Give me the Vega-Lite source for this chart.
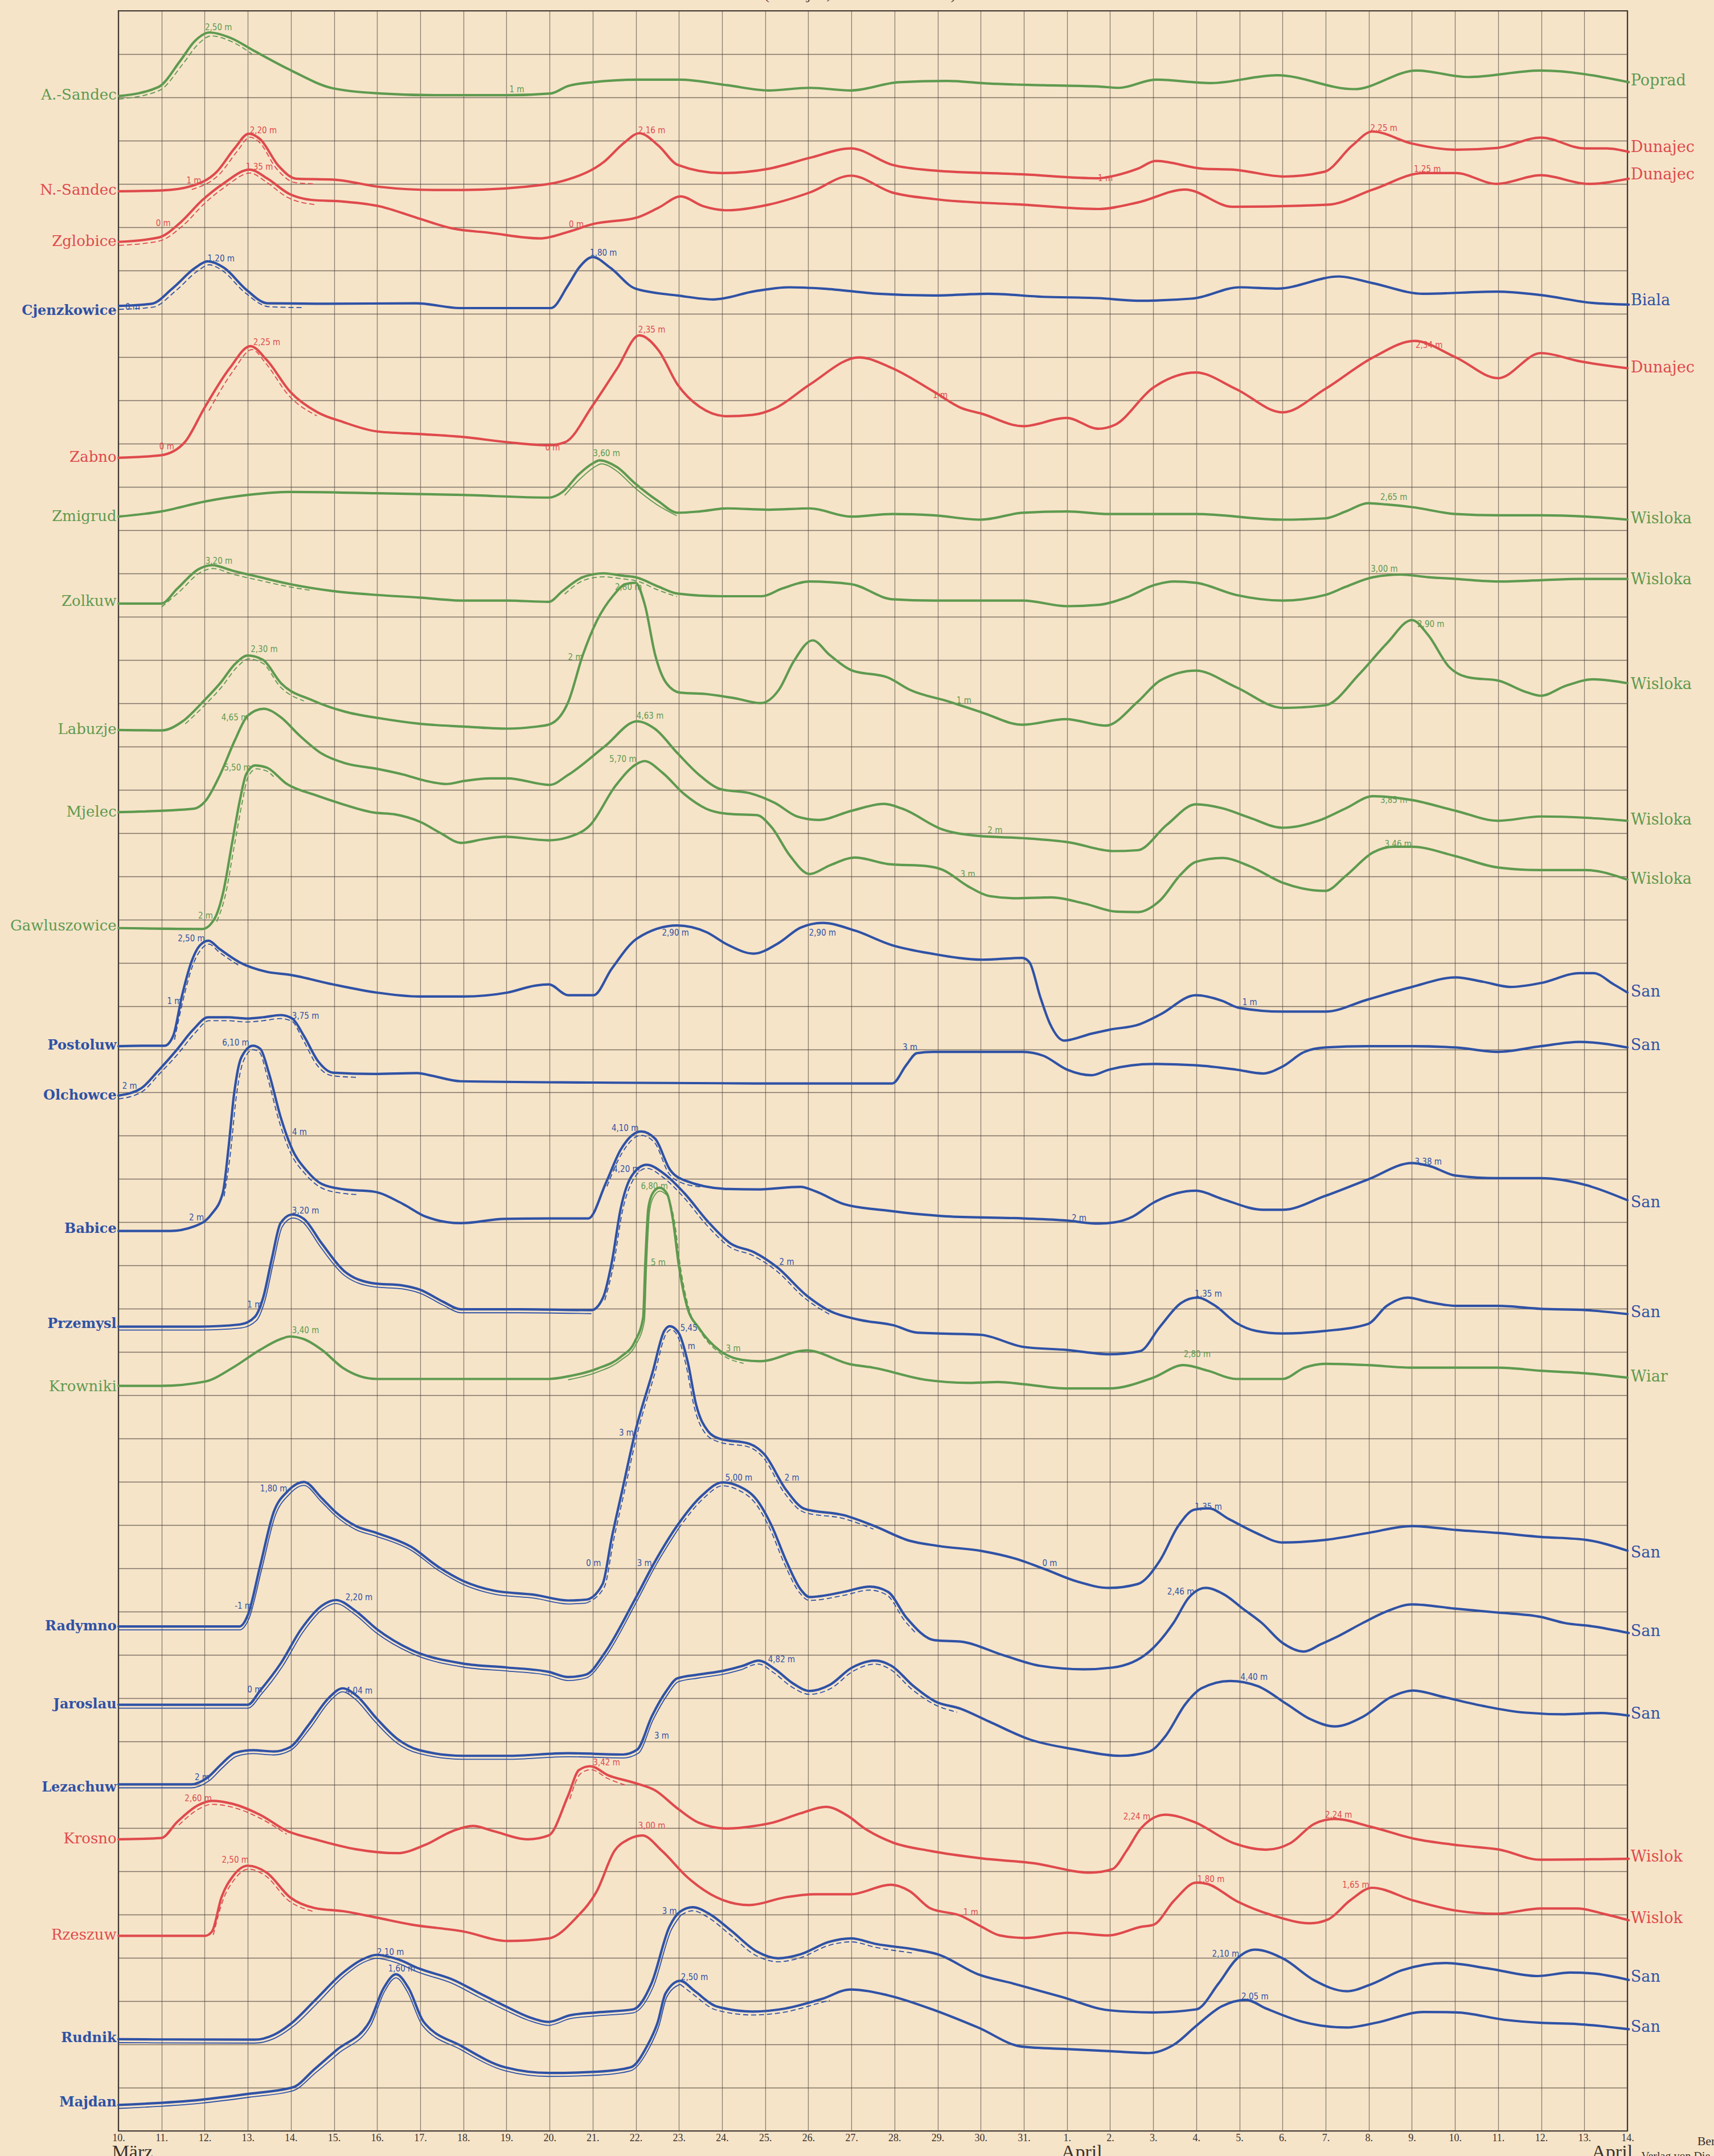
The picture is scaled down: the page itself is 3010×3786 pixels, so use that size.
{
"$schema": "https://vega.github.io/schema/vega-lite/v6.json",
"width": 2650, "height": 3723,
"autosize": {"type": "none"},
"padding": {"left": 208, "top": 19, "right": 152, "bottom": 44},
"background": "#f6e4c9",
"config": {"view": {"stroke": "#3b332c", "strokeWidth": 2.2}, "axis": {"domain": false, "ticks": false, "title": null}},
"datasets": {
"curves": [
{"s":"A-Sandec","c":"g","d":10.01,"u":47.03},{"s":"A-Sandec","c":"g","d":10.93,"u":47.24},{"s":"A-Sandec","c":"g","d":11.43,"u":47.84},{"s":"A-Sandec","c":"g","d":11.77,"u":48.30},{"s":"A-Sandec","c":"g","d":12.11,"u":48.50},{"s":"A-Sandec","c":"g","d":12.61,"u":48.37},{"s":"A-Sandec","c":"g","d":13.12,"u":48.09},{"s":"A-Sandec","c":"g","d":13.97,"u":47.64},{"s":"A-Sandec","c":"g","d":14.97,"u":47.21},{"s":"A-Sandec","c":"g","d":16.07,"u":47.09},{"s":"A-Sandec","c":"g","d":17.33,"u":47.05},{"s":"A-Sandec","c":"g","d":19.02,"u":47.05},{"s":"A-Sandec","c":"g","d":20.03,"u":47.09},{"s":"A-Sandec","c":"g","d":20.42,"u":47.26},{"s":"A-Sandec","c":"g","d":21.0,"u":47.35},{"s":"A-Sandec","c":"g","d":22.05,"u":47.41},{"s":"A-Sandec","c":"g","d":23.01,"u":47.41},{"s":"A-Sandec","c":"g","d":24.12,"u":47.28},{"s":"A-Sandec","c":"g","d":25.08,"u":47.16},{"s":"A-Sandec","c":"g","d":26.03,"u":47.22},{"s":"A-Sandec","c":"g","d":26.99,"u":47.16},{"s":"A-Sandec","c":"g","d":28.1,"u":47.35},{"s":"A-Sandec","c":"g","d":29.22,"u":47.38},{"s":"A-Sandec","c":"g","d":30.18,"u":47.32},{"s":"A-Sandec","c":"g","d":31.45,"u":47.28},{"s":"A-Sandec","c":"g","d":32.73,"u":47.25},{"s":"A-Sandec","c":"g","d":33.21,"u":47.22},{"s":"A-Sandec","c":"g","d":34.06,"u":47.41},{"s":"A-Sandec","c":"g","d":35.34,"u":47.33},{"s":"A-Sandec","c":"g","d":36.87,"u":47.51},{"s":"A-Sandec","c":"g","d":38.66,"u":47.19},{"s":"A-Sandec","c":"g","d":40.11,"u":47.62},{"s":"A-Sandec","c":"g","d":41.30,"u":47.47},{"s":"A-Sandec","c":"g","d":42.99,"u":47.62},{"s":"A-Sandec","c":"g","d":45.03,"u":47.35},
{"s":"N-Sandec","c":"r","d":10.01,"u":44.83},{"s":"N-Sandec","c":"r","d":11.02,"u":44.85},{"s":"N-Sandec","c":"r","d":11.69,"u":44.95},{"s":"N-Sandec","c":"r","d":12.28,"u":45.28},{"s":"N-Sandec","c":"r","d":12.70,"u":45.83},{"s":"N-Sandec","c":"r","d":13.02,"u":46.16},{"s":"N-Sandec","c":"r","d":13.29,"u":46.03},{"s":"N-Sandec","c":"r","d":13.71,"u":45.42},{"s":"N-Sandec","c":"r","d":14.13,"u":45.12},{"s":"N-Sandec","c":"r","d":14.97,"u":45.10},{"s":"N-Sandec","c":"r","d":16.07,"u":44.93},{"s":"N-Sandec","c":"r","d":17.33,"u":44.86},{"s":"N-Sandec","c":"r","d":18.0,"u":44.86},{"s":"N-Sandec","c":"r","d":19.86,"u":44.98},{"s":"N-Sandec","c":"r","d":20.42,"u":45.10},{"s":"N-Sandec","c":"r","d":21.25,"u":45.50},{"s":"N-Sandec","c":"r","d":21.73,"u":45.95},{"s":"N-Sandec","c":"r","d":22.08,"u":46.17},{"s":"N-Sandec","c":"r","d":22.53,"u":45.88},{"s":"N-Sandec","c":"r","d":22.97,"u":45.44},{"s":"N-Sandec","c":"r","d":23.99,"u":45.25},{"s":"N-Sandec","c":"r","d":25.08,"u":45.35},{"s":"N-Sandec","c":"r","d":26.03,"u":45.60},{"s":"N-Sandec","c":"r","d":26.99,"u":45.82},{"s":"N-Sandec","c":"r","d":27.95,"u":45.44},{"s":"N-Sandec","c":"r","d":28.91,"u":45.31},{"s":"N-Sandec","c":"r","d":30.98,"u":45.22},{"s":"N-Sandec","c":"r","d":32.73,"u":45.13},{"s":"N-Sandec","c":"r","d":33.11,"u":45.19},{"s":"N-Sandec","c":"r","d":33.64,"u":45.35},{"s":"N-Sandec","c":"r","d":34.06,"u":45.53},{"s":"N-Sandec","c":"r","d":35.17,"u":45.35},{"s":"N-Sandec","c":"r","d":35.85,"u":45.33},{"s":"N-Sandec","c":"r","d":37.04,"u":45.17},{"s":"N-Sandec","c":"r","d":37.97,"u":45.28},{"s":"N-Sandec","c":"r","d":38.62,"u":45.89},{"s":"N-Sandec","c":"r","d":39.08,"u":46.21},{"s":"N-Sandec","c":"r","d":40.01,"u":45.93},{"s":"N-Sandec","c":"r","d":41.03,"u":45.79},{"s":"N-Sandec","c":"r","d":41.97,"u":45.83},{"s":"N-Sandec","c":"r","d":42.99,"u":46.07},{"s":"N-Sandec","c":"r","d":44.01,"u":45.82},{"s":"N-Sandec","c":"r","d":44.52,"u":45.82},{"s":"N-Sandec","c":"r","d":45.03,"u":45.74},
{"s":"Zglobice","c":"r","d":10.01,"u":43.66},{"s":"Zglobice","c":"r","d":10.93,"u":43.76},{"s":"Zglobice","c":"r","d":11.44,"u":44.11},{"s":"Zglobice","c":"r","d":11.94,"u":44.62},{"s":"Zglobice","c":"r","d":12.45,"u":45.02},{"s":"Zglobice","c":"r","d":13.04,"u":45.33},{"s":"Zglobice","c":"r","d":13.46,"u":45.12},{"s":"Zglobice","c":"r","d":13.96,"u":44.77},{"s":"Zglobice","c":"r","d":14.47,"u":44.63},{"s":"Zglobice","c":"r","d":15.23,"u":44.59},{"s":"Zglobice","c":"r","d":16.07,"u":44.48},{"s":"Zglobice","c":"r","d":16.91,"u":44.22},{"s":"Zglobice","c":"r","d":17.75,"u":43.97},{"s":"Zglobice","c":"r","d":18.60,"u":43.87},{"s":"Zglobice","c":"r","d":19.78,"u":43.74},{"s":"Zglobice","c":"r","d":20.43,"u":43.89},{"s":"Zglobice","c":"r","d":21.0,"u":44.07},{"s":"Zglobice","c":"r","d":22.05,"u":44.23},{"s":"Zglobice","c":"r","d":22.53,"u":44.45},{"s":"Zglobice","c":"r","d":23.04,"u":44.71},{"s":"Zglobice","c":"r","d":23.55,"u":44.49},{"s":"Zglobice","c":"r","d":24.12,"u":44.39},{"s":"Zglobice","c":"r","d":25.08,"u":44.52},{"s":"Zglobice","c":"r","d":26.03,"u":44.80},{"s":"Zglobice","c":"r","d":26.99,"u":45.19},{"s":"Zglobice","c":"r","d":27.95,"u":44.80},{"s":"Zglobice","c":"r","d":28.91,"u":44.65},{"s":"Zglobice","c":"r","d":30.98,"u":44.52},{"s":"Zglobice","c":"r","d":32.73,"u":44.42},{"s":"Zglobice","c":"r","d":33.64,"u":44.57},{"s":"Zglobice","c":"r","d":34.74,"u":44.87},{"s":"Zglobice","c":"r","d":35.85,"u":44.47},{"s":"Zglobice","c":"r","d":38.06,"u":44.52},{"s":"Zglobice","c":"r","d":39.1,"u":44.87},{"s":"Zglobice","c":"r","d":40.27,"u":45.25},{"s":"Zglobice","c":"r","d":41.02,"u":45.25},{"s":"Zglobice","c":"r","d":41.97,"u":45.0},{"s":"Zglobice","c":"r","d":42.99,"u":45.20},{"s":"Zglobice","c":"r","d":44.09,"u":45.0},{"s":"Zglobice","c":"r","d":45.03,"u":45.12},
{"s":"Cjenzkowice","c":"b","d":10.01,"u":42.18},{"s":"Cjenzkowice","c":"b","d":10.77,"u":42.23},{"s":"Cjenzkowice","c":"b","d":11.27,"u":42.60},{"s":"Cjenzkowice","c":"b","d":11.78,"u":43.06},{"s":"Cjenzkowice","c":"b","d":12.07,"u":43.21},{"s":"Cjenzkowice","c":"b","d":12.45,"u":43.06},{"s":"Cjenzkowice","c":"b","d":12.96,"u":42.56},{"s":"Cjenzkowice","c":"b","d":13.46,"u":42.24},{"s":"Cjenzkowice","c":"b","d":14.81,"u":42.23},{"s":"Cjenzkowice","c":"b","d":16.91,"u":42.24},{"s":"Cjenzkowice","c":"b","d":17.92,"u":42.13},{"s":"Cjenzkowice","c":"b","d":20.03,"u":42.13},{"s":"Cjenzkowice","c":"b","d":20.43,"u":42.66},{"s":"Cjenzkowice","c":"b","d":20.68,"u":43.06},{"s":"Cjenzkowice","c":"b","d":21.0,"u":43.31},{"s":"Cjenzkowice","c":"b","d":21.41,"u":43.06},{"s":"Cjenzkowice","c":"b","d":21.99,"u":42.58},{"s":"Cjenzkowice","c":"b","d":22.97,"u":42.42},{"s":"Cjenzkowice","c":"b","d":23.80,"u":42.33},{"s":"Cjenzkowice","c":"b","d":24.76,"u":42.52},{"s":"Cjenzkowice","c":"b","d":25.56,"u":42.61},{"s":"Cjenzkowice","c":"b","d":26.35,"u":42.58},{"s":"Cjenzkowice","c":"b","d":27.63,"u":42.46},{"s":"Cjenzkowice","c":"b","d":28.90,"u":42.42},{"s":"Cjenzkowice","c":"b","d":30.18,"u":42.46},{"s":"Cjenzkowice","c":"b","d":31.45,"u":42.39},{"s":"Cjenzkowice","c":"b","d":32.73,"u":42.36},{"s":"Cjenzkowice","c":"b","d":33.64,"u":42.30},{"s":"Cjenzkowice","c":"b","d":34.91,"u":42.35},{"s":"Cjenzkowice","c":"b","d":36.01,"u":42.61},{"s":"Cjenzkowice","c":"b","d":36.87,"u":42.58},{"s":"Cjenzkowice","c":"b","d":38.31,"u":42.86},{"s":"Cjenzkowice","c":"b","d":39.07,"u":42.71},{"s":"Cjenzkowice","c":"b","d":40.27,"u":42.46},{"s":"Cjenzkowice","c":"b","d":41.97,"u":42.51},{"s":"Cjenzkowice","c":"b","d":42.99,"u":42.43},{"s":"Cjenzkowice","c":"b","d":44.18,"u":42.25},{"s":"Cjenzkowice","c":"b","d":45.03,"u":42.21},
{"s":"Zabno","c":"r","d":10.0,"u":38.67},{"s":"Zabno","c":"r","d":10.99,"u":38.73},{"s":"Zabno","c":"r","d":11.53,"u":39.02},{"s":"Zabno","c":"r","d":12.01,"u":39.85},{"s":"Zabno","c":"r","d":12.58,"u":40.74},{"s":"Zabno","c":"r","d":13.06,"u":41.25},{"s":"Zabno","c":"r","d":13.44,"u":40.93},{"s":"Zabno","c":"r","d":13.98,"u":40.20},{"s":"Zabno","c":"r","d":14.62,"u":39.72},{"s":"Zabno","c":"r","d":15.20,"u":39.50},{"s":"Zabno","c":"r","d":15.99,"u":39.28},{"s":"Zabno","c":"r","d":16.98,"u":39.22},{"s":"Zabno","c":"r","d":18.0,"u":39.15},{"s":"Zabno","c":"r","d":19.02,"u":39.03},{"s":"Zabno","c":"r","d":19.98,"u":38.96},{"s":"Zabno","c":"r","d":20.36,"u":39.03},{"s":"Zabno","c":"r","d":21.0,"u":39.88},{"s":"Zabno","c":"r","d":21.57,"u":40.74},{"s":"Zabno","c":"r","d":22.08,"u":41.50},{"s":"Zabno","c":"r","d":22.53,"u":41.15},{"s":"Zabno","c":"r","d":22.97,"u":40.36},{"s":"Zabno","c":"r","d":23.48,"u":39.85},{"s":"Zabno","c":"r","d":24.12,"u":39.63},{"s":"Zabno","c":"r","d":24.70,"u":39.66},{"s":"Zabno","c":"r","d":25.24,"u":39.82},{"s":"Zabno","c":"r","d":26.03,"u":40.36},{"s":"Zabno","c":"r","d":27.18,"u":40.99},{"s":"Zabno","c":"r","d":27.95,"u":40.74},{"s":"Zabno","c":"r","d":28.91,"u":40.20},{"s":"Zabno","c":"r","d":29.55,"u":39.82},{"s":"Zabno","c":"r","d":30.02,"u":39.69},{"s":"Zabno","c":"r","d":30.98,"u":39.40},{"s":"Zabno","c":"r","d":31.99,"u":39.59},{"s":"Zabno","c":"r","d":32.73,"u":39.34},{"s":"Zabno","c":"r","d":33.11,"u":39.43},{"s":"Zabno","c":"r","d":34.0,"u":40.29},{"s":"Zabno","c":"r","d":34.99,"u":40.64},{"s":"Zabno","c":"r","d":35.92,"u":40.26},{"s":"Zabno","c":"r","d":37.0,"u":39.72},{"s":"Zabno","c":"r","d":37.99,"u":40.26},{"s":"Zabno","c":"r","d":39.10,"u":40.99},{"s":"Zabno","c":"r","d":40.06,"u":41.37},{"s":"Zabno","c":"r","d":41.02,"u":40.99},{"s":"Zabno","c":"r","d":42.0,"u":40.51},{"s":"Zabno","c":"r","d":42.99,"u":41.09},{"s":"Zabno","c":"r","d":43.89,"u":40.90},{"s":"Zabno","c":"r","d":45.0,"u":40.74},
{"s":"Zmigrud","c":"g","d":10.0,"u":37.31},{"s":"Zmigrud","c":"g","d":10.99,"u":37.43},{"s":"Zmigrud","c":"g","d":12.01,"u":37.66},{"s":"Zmigrud","c":"g","d":13.0,"u":37.81},{"s":"Zmigrud","c":"g","d":13.98,"u":37.88},{"s":"Zmigrud","c":"g","d":15.99,"u":37.85},{"s":"Zmigrud","c":"g","d":18.0,"u":37.81},{"s":"Zmigrud","c":"g","d":19.98,"u":37.75},{"s":"Zmigrud","c":"g","d":20.30,"u":37.88},{"s":"Zmigrud","c":"g","d":20.68,"u":38.29},{"s":"Zmigrud","c":"g","d":21.0,"u":38.54},{"s":"Zmigrud","c":"g","d":21.16,"u":38.61},{"s":"Zmigrud","c":"g","d":21.57,"u":38.45},{"s":"Zmigrud","c":"g","d":21.99,"u":38.07},{"s":"Zmigrud","c":"g","d":22.53,"u":37.66},{"s":"Zmigrud","c":"g","d":22.97,"u":37.40},{"s":"Zmigrud","c":"g","d":23.48,"u":37.43},{"s":"Zmigrud","c":"g","d":24.12,"u":37.50},{"s":"Zmigrud","c":"g","d":25.08,"u":37.47},{"s":"Zmigrud","c":"g","d":26.03,"u":37.50},{"s":"Zmigrud","c":"g","d":26.99,"u":37.31},{"s":"Zmigrud","c":"g","d":27.95,"u":37.37},{"s":"Zmigrud","c":"g","d":28.91,"u":37.34},{"s":"Zmigrud","c":"g","d":29.99,"u":37.24},{"s":"Zmigrud","c":"g","d":30.98,"u":37.40},{"s":"Zmigrud","c":"g","d":32.0,"u":37.43},{"s":"Zmigrud","c":"g","d":32.98,"u":37.37},{"s":"Zmigrud","c":"g","d":34.99,"u":37.37},{"s":"Zmigrud","c":"g","d":37.0,"u":37.24},{"s":"Zmigrud","c":"g","d":37.99,"u":37.27},{"s":"Zmigrud","c":"g","d":38.47,"u":37.43},{"s":"Zmigrud","c":"g","d":38.98,"u":37.62},{"s":"Zmigrud","c":"g","d":39.42,"u":37.59},{"s":"Zmigrud","c":"g","d":40.0,"u":37.53},{"s":"Zmigrud","c":"g","d":41.02,"u":37.37},{"s":"Zmigrud","c":"g","d":42.0,"u":37.34},{"s":"Zmigrud","c":"g","d":42.99,"u":37.34},{"s":"Zmigrud","c":"g","d":44.04,"u":37.31},{"s":"Zmigrud","c":"g","d":45.0,"u":37.24},
{"s":"Zolkuw","c":"g","d":10.0,"u":35.30},{"s":"Zolkuw","c":"g","d":10.99,"u":35.30},{"s":"Zolkuw","c":"g","d":11.37,"u":35.65},{"s":"Zolkuw","c":"g","d":11.85,"u":36.09},{"s":"Zolkuw","c":"g","d":12.17,"u":36.19},{"s":"Zolkuw","c":"g","d":12.65,"u":36.06},{"s":"Zolkuw","c":"g","d":13.28,"u":35.91},{"s":"Zolkuw","c":"g","d":13.98,"u":35.75},{"s":"Zolkuw","c":"g","d":14.97,"u":35.59},{"s":"Zolkuw","c":"g","d":15.99,"u":35.50},{"s":"Zolkuw","c":"g","d":16.98,"u":35.44},{"s":"Zolkuw","c":"g","d":18.0,"u":35.37},{"s":"Zolkuw","c":"g","d":19.02,"u":35.37},{"s":"Zolkuw","c":"g","d":19.98,"u":35.34},{"s":"Zolkuw","c":"g","d":20.30,"u":35.59},{"s":"Zolkuw","c":"g","d":20.77,"u":35.91},{"s":"Zolkuw","c":"g","d":21.25,"u":36.0},{"s":"Zolkuw","c":"g","d":21.73,"u":35.94},{"s":"Zolkuw","c":"g","d":21.99,"u":35.91},{"s":"Zolkuw","c":"g","d":22.53,"u":35.69},{"s":"Zolkuw","c":"g","d":22.97,"u":35.53},{"s":"Zolkuw","c":"g","d":23.99,"u":35.47},{"s":"Zolkuw","c":"g","d":24.92,"u":35.47},{"s":"Zolkuw","c":"g","d":25.40,"u":35.65},{"s":"Zolkuw","c":"g","d":26.03,"u":35.81},{"s":"Zolkuw","c":"g","d":26.99,"u":35.75},{"s":"Zolkuw","c":"g","d":27.95,"u":35.40},{"s":"Zolkuw","c":"g","d":28.91,"u":35.37},{"s":"Zolkuw","c":"g","d":29.99,"u":35.37},{"s":"Zolkuw","c":"g","d":30.98,"u":35.37},{"s":"Zolkuw","c":"g","d":32.0,"u":35.24},{"s":"Zolkuw","c":"g","d":32.73,"u":35.27},{"s":"Zolkuw","c":"g","d":33.37,"u":35.44},{"s":"Zolkuw","c":"g","d":34.0,"u":35.72},{"s":"Zolkuw","c":"g","d":34.48,"u":35.81},{"s":"Zolkuw","c":"g","d":34.99,"u":35.78},{"s":"Zolkuw","c":"g","d":35.92,"u":35.50},{"s":"Zolkuw","c":"g","d":37.0,"u":35.37},{"s":"Zolkuw","c":"g","d":37.99,"u":35.50},{"s":"Zolkuw","c":"g","d":38.47,"u":35.69},{"s":"Zolkuw","c":"g","d":39.10,"u":35.91},{"s":"Zolkuw","c":"g","d":39.74,"u":35.97},{"s":"Zolkuw","c":"g","d":40.38,"u":35.91},{"s":"Zolkuw","c":"g","d":41.02,"u":35.87},{"s":"Zolkuw","c":"g","d":42.0,"u":35.81},{"s":"Zolkuw","c":"g","d":42.99,"u":35.84},{"s":"Zolkuw","c":"g","d":43.89,"u":35.87},{"s":"Zolkuw","c":"g","d":45.0,"u":35.87},
{"s":"Labuzje","c":"g","d":10.0,"u":32.38},{"s":"Labuzje","c":"g","d":11.01,"u":32.37},{"s":"Labuzje","c":"g","d":11.49,"u":32.58},{"s":"Labuzje","c":"g","d":11.95,"u":33.02},{"s":"Labuzje","c":"g","d":12.36,"u":33.46},{"s":"Labuzje","c":"g","d":12.71,"u":33.91},{"s":"Labuzje","c":"g","d":13.0,"u":34.10},{"s":"Labuzje","c":"g","d":13.35,"u":34.0},{"s":"Labuzje","c":"g","d":13.77,"u":33.46},{"s":"Labuzje","c":"g","d":14.51,"u":33.06},{"s":"Labuzje","c":"g","d":15.26,"u":32.80},{"s":"Labuzje","c":"g","d":16.06,"u":32.65},{"s":"Labuzje","c":"g","d":17.01,"u":32.52},{"s":"Labuzje","c":"g","d":17.95,"u":32.46},{"s":"Labuzje","c":"g","d":19.03,"u":32.41},{"s":"Labuzje","c":"g","d":19.63,"u":32.45},{"s":"Labuzje","c":"g","d":20.0,"u":32.51},{"s":"Labuzje","c":"g","d":20.43,"u":33.02},{"s":"Labuzje","c":"g","d":20.77,"u":34.11},{"s":"Labuzje","c":"g","d":21.09,"u":34.89},{"s":"Labuzje","c":"g","d":21.48,"u":35.49},{"s":"Labuzje","c":"g","d":21.76,"u":35.75},{"s":"Labuzje","c":"g","d":21.99,"u":35.78},{"s":"Labuzje","c":"g","d":22.21,"u":35.27},{"s":"Labuzje","c":"g","d":22.45,"u":34.11},{"s":"Labuzje","c":"g","d":22.71,"u":33.46},{"s":"Labuzje","c":"g","d":23.04,"u":33.24},{"s":"Labuzje","c":"g","d":23.63,"u":33.21},{"s":"Labuzje","c":"g","d":24.31,"u":33.11},{"s":"Labuzje","c":"g","d":24.90,"u":33.0},{"s":"Labuzje","c":"g","d":25.32,"u":33.31},{"s":"Labuzje","c":"g","d":25.66,"u":33.96},{"s":"Labuzje","c":"g","d":26.10,"u":34.45},{"s":"Labuzje","c":"g","d":26.50,"u":34.11},{"s":"Labuzje","c":"g","d":27.0,"u":33.76},{"s":"Labuzje","c":"g","d":27.85,"u":33.59},{"s":"Labuzje","c":"g","d":28.35,"u":33.31},{"s":"Labuzje","c":"g","d":29.28,"u":33.03},{"s":"Labuzje","c":"g","d":30.04,"u":32.78},{"s":"Labuzje","c":"g","d":30.96,"u":32.50},{"s":"Labuzje","c":"g","d":31.97,"u":32.63},{"s":"Labuzje","c":"g","d":32.90,"u":32.48},{"s":"Labuzje","c":"g","d":33.64,"u":33.03},{"s":"Labuzje","c":"g","d":34.16,"u":33.52},{"s":"Labuzje","c":"g","d":34.99,"u":33.75},{"s":"Labuzje","c":"g","d":35.92,"u":33.37},{"s":"Labuzje","c":"g","d":37.0,"u":32.89},{"s":"Labuzje","c":"g","d":37.99,"u":32.95},{"s":"Labuzje","c":"g","d":38.79,"u":33.68},{"s":"Labuzje","c":"g","d":39.42,"u":34.38},{"s":"Labuzje","c":"g","d":40.0,"u":34.92},{"s":"Labuzje","c":"g","d":40.38,"u":34.57},{"s":"Labuzje","c":"g","d":40.86,"u":33.84},{"s":"Labuzje","c":"g","d":41.34,"u":33.59},{"s":"Labuzje","c":"g","d":42.0,"u":33.52},{"s":"Labuzje","c":"g","d":42.61,"u":33.27},{"s":"Labuzje","c":"g","d":42.99,"u":33.17},{"s":"Labuzje","c":"g","d":43.57,"u":33.40},{"s":"Labuzje","c":"g","d":44.21,"u":33.55},{"s":"Labuzje","c":"g","d":45.0,"u":33.46},
{"s":"Mjelec","c":"g","d":10.0,"u":30.48},{"s":"Mjelec","c":"g","d":11.75,"u":30.56},{"s":"Mjelec","c":"g","d":12.02,"u":30.74},{"s":"Mjelec","c":"g","d":12.36,"u":31.35},{"s":"Mjelec","c":"g","d":12.70,"u":32.14},{"s":"Mjelec","c":"g","d":13.0,"u":32.71},{"s":"Mjelec","c":"g","d":13.37,"u":32.87},{"s":"Mjelec","c":"g","d":13.77,"u":32.67},{"s":"Mjelec","c":"g","d":14.18,"u":32.27},{"s":"Mjelec","c":"g","d":14.72,"u":31.83},{"s":"Mjelec","c":"g","d":15.26,"u":31.61},{"s":"Mjelec","c":"g","d":16.0,"u":31.48},{"s":"Mjelec","c":"g","d":16.60,"u":31.35},{"s":"Mjelec","c":"g","d":17.14,"u":31.20},{"s":"Mjelec","c":"g","d":17.61,"u":31.13},{"s":"Mjelec","c":"g","d":18.02,"u":31.20},{"s":"Mjelec","c":"g","d":18.62,"u":31.26},{"s":"Mjelec","c":"g","d":19.03,"u":31.26},{"s":"Mjelec","c":"g","d":20.0,"u":31.11},{"s":"Mjelec","c":"g","d":20.43,"u":31.34},{"s":"Mjelec","c":"g","d":21.28,"u":32.0},{"s":"Mjelec","c":"g","d":22.03,"u":32.58},{"s":"Mjelec","c":"g","d":22.45,"u":32.40},{"s":"Mjelec","c":"g","d":22.96,"u":31.85},{"s":"Mjelec","c":"g","d":23.47,"u":31.34},{"s":"Mjelec","c":"g","d":23.97,"u":31.01},{"s":"Mjelec","c":"g","d":24.64,"u":30.92},{"s":"Mjelec","c":"g","d":25.23,"u":30.69},{"s":"Mjelec","c":"g","d":25.74,"u":30.38},{"s":"Mjelec","c":"g","d":26.24,"u":30.30},{"s":"Mjelec","c":"g","d":27.0,"u":30.51},{"s":"Mjelec","c":"g","d":27.76,"u":30.67},{"s":"Mjelec","c":"g","d":28.18,"u":30.56},{"s":"Mjelec","c":"g","d":29.11,"u":30.08},{"s":"Mjelec","c":"g","d":29.95,"u":29.93},{"s":"Mjelec","c":"g","d":30.96,"u":29.88},{"s":"Mjelec","c":"g","d":32.06,"u":29.78},{"s":"Mjelec","c":"g","d":33.07,"u":29.58},{"s":"Mjelec","c":"g","d":33.64,"u":29.60},{"s":"Mjelec","c":"g","d":34.32,"u":30.19},{"s":"Mjelec","c":"g","d":34.99,"u":30.66},{"s":"Mjelec","c":"g","d":35.60,"u":30.57},{"s":"Mjelec","c":"g","d":36.24,"u":30.35},{"s":"Mjelec","c":"g","d":37.0,"u":30.12},{"s":"Mjelec","c":"g","d":37.83,"u":30.28},{"s":"Mjelec","c":"g","d":38.47,"u":30.57},{"s":"Mjelec","c":"g","d":39.10,"u":30.85},{"s":"Mjelec","c":"g","d":40.0,"u":30.76},{"s":"Mjelec","c":"g","d":41.02,"u":30.51},{"s":"Mjelec","c":"g","d":42.0,"u":30.28},{"s":"Mjelec","c":"g","d":42.99,"u":30.38},{"s":"Mjelec","c":"g","d":44.04,"u":30.35},{"s":"Mjelec","c":"g","d":45.0,"u":30.28},
{"s":"Gawluszowice","c":"g","d":10.0,"u":27.80},{"s":"Gawluszowice","c":"g","d":11.95,"u":27.78},{"s":"Gawluszowice","c":"g","d":12.23,"u":28.02},{"s":"Gawluszowice","c":"g","d":12.43,"u":28.63},{"s":"Gawluszowice","c":"g","d":12.63,"u":29.73},{"s":"Gawluszowice","c":"g","d":12.83,"u":30.82},{"s":"Gawluszowice","c":"g","d":12.96,"u":31.35},{"s":"Gawluszowice","c":"g","d":13.17,"u":31.56},{"s":"Gawluszowice","c":"g","d":13.44,"u":31.51},{"s":"Gawluszowice","c":"g","d":13.91,"u":31.13},{"s":"Gawluszowice","c":"g","d":14.58,"u":30.87},{"s":"Gawluszowice","c":"g","d":15.12,"u":30.69},{"s":"Gawluszowice","c":"g","d":15.93,"u":30.47},{"s":"Gawluszowice","c":"g","d":16.40,"u":30.43},{"s":"Gawluszowice","c":"g","d":17.01,"u":30.25},{"s":"Gawluszowice","c":"g","d":17.48,"u":29.99},{"s":"Gawluszowice","c":"g","d":17.95,"u":29.77},{"s":"Gawluszowice","c":"g","d":18.49,"u":29.86},{"s":"Gawluszowice","c":"g","d":18.96,"u":29.91},{"s":"Gawluszowice","c":"g","d":19.97,"u":29.83},{"s":"Gawluszowice","c":"g","d":20.43,"u":29.90},{"s":"Gawluszowice","c":"g","d":20.94,"u":30.18},{"s":"Gawluszowice","c":"g","d":21.53,"u":31.09},{"s":"Gawluszowice","c":"g","d":22.03,"u":31.60},{"s":"Gawluszowice","c":"g","d":22.20,"u":31.66},{"s":"Gawluszowice","c":"g","d":22.62,"u":31.39},{"s":"Gawluszowice","c":"g","d":23.13,"u":30.89},{"s":"Gawluszowice","c":"g","d":23.63,"u":30.56},{"s":"Gawluszowice","c":"g","d":24.14,"u":30.44},{"s":"Gawluszowice","c":"g","d":24.81,"u":30.41},{"s":"Gawluszowice","c":"g","d":25.15,"u":30.13},{"s":"Gawluszowice","c":"g","d":25.57,"u":29.48},{"s":"Gawluszowice","c":"g","d":26.03,"u":29.05},{"s":"Gawluszowice","c":"g","d":26.50,"u":29.25},{"s":"Gawluszowice","c":"g","d":27.09,"u":29.43},{"s":"Gawluszowice","c":"g","d":27.85,"u":29.28},{"s":"Gawluszowice","c":"g","d":28.77,"u":29.23},{"s":"Gawluszowice","c":"g","d":29.11,"u":29.15},{"s":"Gawluszowice","c":"g","d":29.70,"u":28.77},{"s":"Gawluszowice","c":"g","d":30.20,"u":28.54},{"s":"Gawluszowice","c":"g","d":30.79,"u":28.49},{"s":"Gawluszowice","c":"g","d":31.64,"u":28.51},{"s":"Gawluszowice","c":"g","d":32.40,"u":28.37},{"s":"Gawluszowice","c":"g","d":33.15,"u":28.18},{"s":"Gawluszowice","c":"g","d":33.64,"u":28.17},{"s":"Gawluszowice","c":"g","d":34.16,"u":28.44},{"s":"Gawluszowice","c":"g","d":34.64,"u":29.04},{"s":"Gawluszowice","c":"g","d":34.99,"u":29.33},{"s":"Gawluszowice","c":"g","d":35.60,"u":29.42},{"s":"Gawluszowice","c":"g","d":36.24,"u":29.23},{"s":"Gawluszowice","c":"g","d":37.0,"u":28.85},{"s":"Gawluszowice","c":"g","d":37.99,"u":28.66},{"s":"Gawluszowice","c":"g","d":38.47,"u":29.01},{"s":"Gawluszowice","c":"g","d":39.10,"u":29.55},{"s":"Gawluszowice","c":"g","d":39.58,"u":29.68},{"s":"Gawluszowice","c":"g","d":40.0,"u":29.68},{"s":"Gawluszowice","c":"g","d":41.02,"u":29.46},{"s":"Gawluszowice","c":"g","d":42.0,"u":29.20},{"s":"Gawluszowice","c":"g","d":42.99,"u":29.14},{"s":"Gawluszowice","c":"g","d":44.04,"u":29.14},{"s":"Gawluszowice","c":"g","d":45.0,"u":28.92},
{"s":"Postoluw","c":"b","d":10.0,"u":25.07},{"s":"Postoluw","c":"b","d":10.53,"u":25.08},{"s":"Postoluw","c":"b","d":11.07,"u":25.08},{"s":"Postoluw","c":"b","d":11.27,"u":25.31},{"s":"Postoluw","c":"b","d":11.47,"u":26.22},{"s":"Postoluw","c":"b","d":11.69,"u":27.01},{"s":"Postoluw","c":"b","d":11.88,"u":27.39},{"s":"Postoluw","c":"b","d":12.09,"u":27.51},{"s":"Postoluw","c":"b","d":12.33,"u":27.33},{"s":"Postoluw","c":"b","d":12.81,"u":27.01},{"s":"Postoluw","c":"b","d":13.44,"u":26.79},{"s":"Postoluw","c":"b","d":13.98,"u":26.72},{"s":"Postoluw","c":"b","d":14.97,"u":26.50},{"s":"Postoluw","c":"b","d":15.99,"u":26.31},{"s":"Postoluw","c":"b","d":16.98,"u":26.22},{"s":"Postoluw","c":"b","d":18.0,"u":26.22},{"s":"Postoluw","c":"b","d":19.02,"u":26.31},{"s":"Postoluw","c":"b","d":19.66,"u":26.47},{"s":"Postoluw","c":"b","d":19.98,"u":26.50},{"s":"Postoluw","c":"b","d":20.43,"u":26.25},{"s":"Postoluw","c":"b","d":21.02,"u":26.25},{"s":"Postoluw","c":"b","d":21.44,"u":26.86},{"s":"Postoluw","c":"b","d":22.03,"u":27.56},{"s":"Postoluw","c":"b","d":22.96,"u":27.86},{"s":"Postoluw","c":"b","d":23.63,"u":27.71},{"s":"Postoluw","c":"b","d":24.14,"u":27.41},{"s":"Postoluw","c":"b","d":24.73,"u":27.21},{"s":"Postoluw","c":"b","d":25.32,"u":27.46},{"s":"Postoluw","c":"b","d":25.82,"u":27.81},{"s":"Postoluw","c":"b","d":26.33,"u":27.92},{"s":"Postoluw","c":"b","d":27.09,"u":27.74},{"s":"Postoluw","c":"b","d":27.93,"u":27.41},{"s":"Postoluw","c":"b","d":28.86,"u":27.21},{"s":"Postoluw","c":"b","d":30.04,"u":27.07},{"s":"Postoluw","c":"b","d":30.96,"u":27.11},{"s":"Postoluw","c":"b","d":31.13,"u":27.01},{"s":"Postoluw","c":"b","d":31.38,"u":26.21},{"s":"Postoluw","c":"b","d":31.61,"u":25.58},{"s":"Postoluw","c":"b","d":31.93,"u":25.20},{"s":"Postoluw","c":"b","d":32.57,"u":25.36},{"s":"Postoluw","c":"b","d":32.98,"u":25.45},{"s":"Postoluw","c":"b","d":33.69,"u":25.58},{"s":"Postoluw","c":"b","d":34.16,"u":25.80},{"s":"Postoluw","c":"b","d":34.99,"u":26.25},{"s":"Postoluw","c":"b","d":35.60,"u":26.12},{"s":"Postoluw","c":"b","d":35.98,"u":25.96},{"s":"Postoluw","c":"b","d":37.0,"u":25.87},{"s":"Postoluw","c":"b","d":37.99,"u":25.87},{"s":"Postoluw","c":"b","d":38.98,"u":26.15},{"s":"Postoluw","c":"b","d":40.0,"u":26.44},{"s":"Postoluw","c":"b","d":41.02,"u":26.66},{"s":"Postoluw","c":"b","d":41.65,"u":26.56},{"s":"Postoluw","c":"b","d":42.29,"u":26.44},{"s":"Postoluw","c":"b","d":42.99,"u":26.53},{"s":"Postoluw","c":"b","d":43.89,"u":26.76},{"s":"Postoluw","c":"b","d":44.21,"u":26.76},{"s":"Postoluw","c":"b","d":44.68,"u":26.50},{"s":"Postoluw","c":"b","d":45.0,"u":26.31},
{"s":"Olchowce","c":"b","d":10.0,"u":23.93},{"s":"Olchowce","c":"b","d":10.53,"u":24.10},{"s":"Olchowce","c":"b","d":10.93,"u":24.51},{"s":"Olchowce","c":"b","d":11.33,"u":24.96},{"s":"Olchowce","c":"b","d":11.74,"u":25.46},{"s":"Olchowce","c":"b","d":12.08,"u":25.74},{"s":"Olchowce","c":"b","d":12.55,"u":25.74},{"s":"Olchowce","c":"b","d":12.96,"u":25.71},{"s":"Olchowce","c":"b","d":13.36,"u":25.74},{"s":"Olchowce","c":"b","d":13.76,"u":25.79},{"s":"Olchowce","c":"b","d":14.03,"u":25.71},{"s":"Olchowce","c":"b","d":14.30,"u":25.31},{"s":"Olchowce","c":"b","d":14.64,"u":24.71},{"s":"Olchowce","c":"b","d":14.97,"u":24.46},{"s":"Olchowce","c":"b","d":15.92,"u":24.43},{"s":"Olchowce","c":"b","d":16.93,"u":24.45},{"s":"Olchowce","c":"b","d":17.26,"u":24.39},{"s":"Olchowce","c":"b","d":17.94,"u":24.26},{"s":"Olchowce","c":"b","d":21.09,"u":24.23},{"s":"Olchowce","c":"b","d":24.76,"u":24.21},{"s":"Olchowce","c":"b","d":27.95,"u":24.21},{"s":"Olchowce","c":"b","d":28.27,"u":24.63},{"s":"Olchowce","c":"b","d":28.52,"u":24.91},{"s":"Olchowce","c":"b","d":28.90,"u":24.94},{"s":"Olchowce","c":"b","d":29.99,"u":24.94},{"s":"Olchowce","c":"b","d":30.98,"u":24.94},{"s":"Olchowce","c":"b","d":31.45,"u":24.85},{"s":"Olchowce","c":"b","d":32.0,"u":24.53},{"s":"Olchowce","c":"b","d":32.57,"u":24.40},{"s":"Olchowce","c":"b","d":32.98,"u":24.53},{"s":"Olchowce","c":"b","d":34.0,"u":24.66},{"s":"Olchowce","c":"b","d":34.99,"u":24.63},{"s":"Olchowce","c":"b","d":35.92,"u":24.53},{"s":"Olchowce","c":"b","d":36.55,"u":24.44},{"s":"Olchowce","c":"b","d":37.0,"u":24.60},{"s":"Olchowce","c":"b","d":37.51,"u":24.94},{"s":"Olchowce","c":"b","d":37.99,"u":25.04},{"s":"Olchowce","c":"b","d":38.98,"u":25.07},{"s":"Olchowce","c":"b","d":40.0,"u":25.07},{"s":"Olchowce","c":"b","d":41.02,"u":25.04},{"s":"Olchowce","c":"b","d":42.0,"u":24.94},{"s":"Olchowce","c":"b","d":42.99,"u":25.07},{"s":"Olchowce","c":"b","d":43.89,"u":25.17},{"s":"Olchowce","c":"b","d":45.0,"u":25.04},
{"s":"Babice","c":"b","d":10.0,"u":20.80},{"s":"Babice","c":"b","d":11.20,"u":20.80},{"s":"Babice","c":"b","d":11.74,"u":20.90},{"s":"Babice","c":"b","d":12.15,"u":21.18},{"s":"Babice","c":"b","d":12.42,"u":21.68},{"s":"Babice","c":"b","d":12.55,"u":22.69},{"s":"Babice","c":"b","d":12.68,"u":23.95},{"s":"Babice","c":"b","d":12.85,"u":24.81},{"s":"Babice","c":"b","d":13.12,"u":25.08},{"s":"Babice","c":"b","d":13.29,"u":25.01},{"s":"Babice","c":"b","d":13.49,"u":24.45},{"s":"Babice","c":"b","d":13.76,"u":23.44},{"s":"Babice","c":"b","d":14.03,"u":22.69},{"s":"Babice","c":"b","d":14.37,"u":22.19},{"s":"Babice","c":"b","d":14.71,"u":21.89},{"s":"Babice","c":"b","d":15.24,"u":21.76},{"s":"Babice","c":"b","d":15.92,"u":21.71},{"s":"Babice","c":"b","d":16.59,"u":21.43},{"s":"Babice","c":"b","d":17.13,"u":21.13},{"s":"Babice","c":"b","d":17.94,"u":20.98},{"s":"Babice","c":"b","d":18.95,"u":21.08},{"s":"Babice","c":"b","d":19.96,"u":21.09},{"s":"Babice","c":"b","d":20.90,"u":21.09},{"s":"Babice","c":"b","d":21.31,"u":21.92},{"s":"Babice","c":"b","d":21.65,"u":22.68},{"s":"Babice","c":"b","d":22.12,"u":23.10},{"s":"Babice","c":"b","d":22.45,"u":22.93},{"s":"Babice","c":"b","d":22.79,"u":22.22},{"s":"Babice","c":"b","d":23.13,"u":21.97},{"s":"Babice","c":"b","d":24.14,"u":21.77},{"s":"Babice","c":"b","d":24.81,"u":21.76},{"s":"Babice","c":"b","d":25.82,"u":21.82},{"s":"Babice","c":"b","d":26.16,"u":21.72},{"s":"Babice","c":"b","d":26.83,"u":21.42},{"s":"Babice","c":"b","d":27.84,"u":21.27},{"s":"Babice","c":"b","d":29.19,"u":21.14},{"s":"Babice","c":"b","d":30.99,"u":21.09},{"s":"Babice","c":"b","d":32.0,"u":21.04},{"s":"Babice","c":"b","d":32.73,"u":20.97},{"s":"Babice","c":"b","d":33.11,"u":21.0},{"s":"Babice","c":"b","d":33.52,"u":21.13},{"s":"Babice","c":"b","d":34.0,"u":21.45},{"s":"Babice","c":"b","d":34.99,"u":21.73},{"s":"Babice","c":"b","d":35.60,"u":21.54},{"s":"Babice","c":"b","d":36.55,"u":21.29},{"s":"Babice","c":"b","d":37.0,"u":21.29},{"s":"Babice","c":"b","d":37.99,"u":21.61},{"s":"Babice","c":"b","d":38.98,"u":21.99},{"s":"Babice","c":"b","d":40.0,"u":22.37},{"s":"Babice","c":"b","d":40.38,"u":22.31},{"s":"Babice","c":"b","d":41.02,"u":22.08},{"s":"Babice","c":"b","d":42.0,"u":22.02},{"s":"Babice","c":"b","d":42.99,"u":22.02},{"s":"Babice","c":"b","d":44.04,"u":21.86},{"s":"Babice","c":"b","d":45.0,"u":21.51},
{"s":"Przemysl","c":"b","d":10.0,"u":18.59},{"s":"Przemysl","c":"b","d":11.87,"u":18.59},{"s":"Przemysl","c":"b","d":12.82,"u":18.64},{"s":"Przemysl","c":"b","d":13.16,"u":18.81},{"s":"Przemysl","c":"b","d":13.36,"u":19.27},{"s":"Przemysl","c":"b","d":13.56,"u":20.17},{"s":"Przemysl","c":"b","d":13.76,"u":20.98},{"s":"Przemysl","c":"b","d":14.03,"u":21.18},{"s":"Przemysl","c":"b","d":14.30,"u":21.08},{"s":"Przemysl","c":"b","d":14.71,"u":20.52},{"s":"Przemysl","c":"b","d":15.24,"u":19.87},{"s":"Przemysl","c":"b","d":15.92,"u":19.59},{"s":"Przemysl","c":"b","d":16.59,"u":19.54},{"s":"Przemysl","c":"b","d":17.0,"u":19.44},{"s":"Przemysl","c":"b","d":17.54,"u":19.16},{"s":"Przemysl","c":"b","d":17.94,"u":18.99},{"s":"Przemysl","c":"b","d":19.29,"u":18.99},{"s":"Przemysl","c":"b","d":20.97,"u":18.97},{"s":"Przemysl","c":"b","d":21.24,"u":19.26},{"s":"Przemysl","c":"b","d":21.44,"u":20.06},{"s":"Przemysl","c":"b","d":21.65,"u":21.32},{"s":"Przemysl","c":"b","d":21.91,"u":22.08},{"s":"Przemysl","c":"b","d":22.25,"u":22.33},{"s":"Przemysl","c":"b","d":22.66,"u":22.12},{"s":"Przemysl","c":"b","d":23.13,"u":21.67},{"s":"Przemysl","c":"b","d":23.67,"u":21.02},{"s":"Przemysl","c":"b","d":24.20,"u":20.51},{"s":"Przemysl","c":"b","d":24.74,"u":20.31},{"s":"Przemysl","c":"b","d":25.28,"u":19.96},{"s":"Przemysl","c":"b","d":25.96,"u":19.31},{"s":"Przemysl","c":"b","d":26.50,"u":18.95},{"s":"Przemysl","c":"b","d":27.17,"u":18.75},{"s":"Przemysl","c":"b","d":27.98,"u":18.62},{"s":"Przemysl","c":"b","d":28.52,"u":18.45},{"s":"Przemysl","c":"b","d":30.0,"u":18.40},{"s":"Przemysl","c":"b","d":30.99,"u":18.12},{"s":"Przemysl","c":"b","d":32.0,"u":18.05},{"s":"Przemysl","c":"b","d":32.98,"u":17.95},{"s":"Przemysl","c":"b","d":33.69,"u":18.02},{"s":"Przemysl","c":"b","d":34.16,"u":18.59},{"s":"Przemysl","c":"b","d":34.64,"u":19.13},{"s":"Przemysl","c":"b","d":35.02,"u":19.26},{"s":"Przemysl","c":"b","d":35.44,"u":19.07},{"s":"Przemysl","c":"b","d":35.92,"u":18.68},{"s":"Przemysl","c":"b","d":36.39,"u":18.49},{"s":"Przemysl","c":"b","d":37.0,"u":18.43},{"s":"Przemysl","c":"b","d":37.99,"u":18.49},{"s":"Przemysl","c":"b","d":38.98,"u":18.65},{"s":"Przemysl","c":"b","d":39.42,"u":19.07},{"s":"Przemysl","c":"b","d":39.90,"u":19.26},{"s":"Przemysl","c":"b","d":40.38,"u":19.16},{"s":"Przemysl","c":"b","d":41.02,"u":19.07},{"s":"Przemysl","c":"b","d":42.0,"u":19.07},{"s":"Przemysl","c":"b","d":42.99,"u":19.0},{"s":"Przemysl","c":"b","d":44.04,"u":18.97},{"s":"Przemysl","c":"b","d":45.0,"u":18.88},
{"s":"Krowniki","c":"g","d":10.0,"u":17.22},{"s":"Krowniki","c":"g","d":10.99,"u":17.22},{"s":"Krowniki","c":"g","d":12.01,"u":17.32},{"s":"Krowniki","c":"g","d":12.65,"u":17.64},{"s":"Krowniki","c":"g","d":13.28,"u":18.05},{"s":"Krowniki","c":"g","d":13.76,"u":18.30},{"s":"Krowniki","c":"g","d":13.97,"u":18.36},{"s":"Krowniki","c":"g","d":14.30,"u":18.30},{"s":"Krowniki","c":"g","d":14.72,"u":18.05},{"s":"Krowniki","c":"g","d":15.20,"u":17.64},{"s":"Krowniki","c":"g","d":15.99,"u":17.38},{"s":"Krowniki","c":"g","d":16.98,"u":17.38},{"s":"Krowniki","c":"g","d":19.02,"u":17.38},{"s":"Krowniki","c":"g","d":19.98,"u":17.38},{"s":"Krowniki","c":"g","d":20.43,"u":17.44},{"s":"Krowniki","c":"g","d":21.11,"u":17.62},{"s":"Krowniki","c":"g","d":21.65,"u":17.89},{"s":"Krowniki","c":"g","d":21.98,"u":18.25},{"s":"Krowniki","c":"g","d":22.17,"u":18.80},{"s":"Krowniki","c":"g","d":22.22,"u":20.06},{"s":"Krowniki","c":"g","d":22.29,"u":21.32},{"s":"Krowniki","c":"g","d":22.39,"u":21.67},{"s":"Krowniki","c":"g","d":22.55,"u":21.80},{"s":"Krowniki","c":"g","d":22.72,"u":21.67},{"s":"Krowniki","c":"g","d":22.86,"u":21.07},{"s":"Krowniki","c":"g","d":22.99,"u":20.06},{"s":"Krowniki","c":"g","d":23.19,"u":19.05},{"s":"Krowniki","c":"g","d":23.47,"u":18.55},{"s":"Krowniki","c":"g","d":23.94,"u":18.04},{"s":"Krowniki","c":"g","d":24.47,"u":17.82},{"s":"Krowniki","c":"g","d":24.88,"u":17.79},{"s":"Krowniki","c":"g","d":25.96,"u":18.04},{"s":"Krowniki","c":"g","d":26.97,"u":17.72},{"s":"Krowniki","c":"g","d":27.51,"u":17.64},{"s":"Krowniki","c":"g","d":28.72,"u":17.36},{"s":"Krowniki","c":"g","d":29.73,"u":17.29},{"s":"Krowniki","c":"g","d":30.40,"u":17.31},{"s":"Krowniki","c":"g","d":30.99,"u":17.26},{"s":"Krowniki","c":"g","d":32.0,"u":17.16},{"s":"Krowniki","c":"g","d":32.98,"u":17.16},{"s":"Krowniki","c":"g","d":34.0,"u":17.41},{"s":"Krowniki","c":"g","d":34.70,"u":17.70},{"s":"Krowniki","c":"g","d":35.27,"u":17.57},{"s":"Krowniki","c":"g","d":35.92,"u":17.38},{"s":"Krowniki","c":"g","d":37.0,"u":17.38},{"s":"Krowniki","c":"g","d":37.51,"u":17.64},{"s":"Krowniki","c":"g","d":37.99,"u":17.73},{"s":"Krowniki","c":"g","d":38.98,"u":17.70},{"s":"Krowniki","c":"g","d":40.0,"u":17.64},{"s":"Krowniki","c":"g","d":41.02,"u":17.64},{"s":"Krowniki","c":"g","d":42.0,"u":17.64},{"s":"Krowniki","c":"g","d":42.99,"u":17.57},{"s":"Krowniki","c":"g","d":44.04,"u":17.51},{"s":"Krowniki","c":"g","d":45.0,"u":17.41},
{"s":"Radymno","c":"b","d":10.0,"u":11.66},{"s":"Radymno","c":"b","d":12.81,"u":11.66},{"s":"Radymno","c":"b","d":13.0,"u":11.92},{"s":"Radymno","c":"b","d":13.28,"u":13.03},{"s":"Radymno","c":"b","d":13.60,"u":14.30},{"s":"Radymno","c":"b","d":13.92,"u":14.78},{"s":"Radymno","c":"b","d":14.30,"u":15.0},{"s":"Radymno","c":"b","d":14.72,"u":14.62},{"s":"Radymno","c":"b","d":15.04,"u":14.30},{"s":"Radymno","c":"b","d":15.51,"u":13.98},{"s":"Radymno","c":"b","d":15.99,"u":13.82},{"s":"Radymno","c":"b","d":16.79,"u":13.50},{"s":"Radymno","c":"b","d":17.43,"u":13.03},{"s":"Radymno","c":"b","d":18.0,"u":12.71},{"s":"Radymno","c":"b","d":18.70,"u":12.49},{"s":"Radymno","c":"b","d":19.66,"u":12.39},{"s":"Radymno","c":"b","d":20.43,"u":12.26},{"s":"Radymno","c":"b","d":20.85,"u":12.28},{"s":"Radymno","c":"b","d":21.23,"u":12.64},{"s":"Radymno","c":"b","d":21.44,"u":13.70},{"s":"Radymno","c":"b","d":21.70,"u":14.87},{"s":"Radymno","c":"b","d":22.0,"u":16.21},{"s":"Radymno","c":"b","d":22.39,"u":17.54},{"s":"Radymno","c":"b","d":22.66,"u":18.49},{"s":"Radymno","c":"b","d":22.79,"u":18.60},{"s":"Radymno","c":"b","d":22.99,"u":18.45},{"s":"Radymno","c":"b","d":23.20,"u":17.79},{"s":"Radymno","c":"b","d":23.40,"u":16.78},{"s":"Radymno","c":"b","d":23.67,"u":16.18},{"s":"Radymno","c":"b","d":23.94,"u":16.0},{"s":"Radymno","c":"b","d":24.64,"u":15.88},{"s":"Radymno","c":"b","d":24.98,"u":15.64},{"s":"Radymno","c":"b","d":25.49,"u":14.81},{"s":"Radymno","c":"b","d":25.91,"u":14.38},{"s":"Radymno","c":"b","d":26.83,"u":14.23},{"s":"Radymno","c":"b","d":27.51,"u":13.99},{"s":"Radymno","c":"b","d":28.35,"u":13.64},{"s":"Radymno","c":"b","d":29.02,"u":13.52},{"s":"Radymno","c":"b","d":30.04,"u":13.40},{"s":"Radymno","c":"b","d":30.79,"u":13.23},{"s":"Radymno","c":"b","d":31.47,"u":12.99},{"s":"Radymno","c":"b","d":32.23,"u":12.70},{"s":"Radymno","c":"b","d":32.98,"u":12.55},{"s":"Radymno","c":"b","d":33.64,"u":12.64},{"s":"Radymno","c":"b","d":34.16,"u":13.19},{"s":"Radymno","c":"b","d":34.58,"u":13.98},{"s":"Radymno","c":"b","d":34.96,"u":14.36},{"s":"Radymno","c":"b","d":35.28,"u":14.39},{"s":"Radymno","c":"b","d":35.76,"u":14.14},{"s":"Radymno","c":"b","d":36.39,"u":13.82},{"s":"Radymno","c":"b","d":37.0,"u":13.60},{"s":"Radymno","c":"b","d":37.99,"u":13.66},{"s":"Radymno","c":"b","d":38.98,"u":13.82},{"s":"Radymno","c":"b","d":40.0,"u":13.98},{"s":"Radymno","c":"b","d":41.02,"u":13.89},{"s":"Radymno","c":"b","d":42.0,"u":13.82},{"s":"Radymno","c":"b","d":42.99,"u":13.73},{"s":"Radymno","c":"b","d":44.04,"u":13.66},{"s":"Radymno","c":"b","d":45.0,"u":13.41},
{"s":"Jaroslau","c":"b","d":10.0,"u":9.85},{"s":"Jaroslau","c":"b","d":13.0,"u":9.85},{"s":"Jaroslau","c":"b","d":13.28,"u":10.17},{"s":"Jaroslau","c":"b","d":13.76,"u":10.80},{"s":"Jaroslau","c":"b","d":14.24,"u":11.60},{"s":"Jaroslau","c":"b","d":14.72,"u":12.14},{"s":"Jaroslau","c":"b","d":15.04,"u":12.27},{"s":"Jaroslau","c":"b","d":15.51,"u":12.01},{"s":"Jaroslau","c":"b","d":15.99,"u":11.60},{"s":"Jaroslau","c":"b","d":16.79,"u":11.12},{"s":"Jaroslau","c":"b","d":18.0,"u":10.80},{"s":"Jaroslau","c":"b","d":19.02,"u":10.71},{"s":"Jaroslau","c":"b","d":19.98,"u":10.61},{"s":"Jaroslau","c":"b","d":20.43,"u":10.49},{"s":"Jaroslau","c":"b","d":20.85,"u":10.55},{"s":"Jaroslau","c":"b","d":21.28,"u":11.05},{"s":"Jaroslau","c":"b","d":21.95,"u":12.23},{"s":"Jaroslau","c":"b","d":22.45,"u":13.17},{"s":"Jaroslau","c":"b","d":22.96,"u":13.99},{"s":"Jaroslau","c":"b","d":23.55,"u":14.70},{"s":"Jaroslau","c":"b","d":24.01,"u":14.99},{"s":"Jaroslau","c":"b","d":24.39,"u":14.90},{"s":"Jaroslau","c":"b","d":24.81,"u":14.58},{"s":"Jaroslau","c":"b","d":25.15,"u":13.99},{"s":"Jaroslau","c":"b","d":25.49,"u":13.17},{"s":"Jaroslau","c":"b","d":25.82,"u":12.52},{"s":"Jaroslau","c":"b","d":26.03,"u":12.34},{"s":"Jaroslau","c":"b","d":26.83,"u":12.46},{"s":"Jaroslau","c":"b","d":27.42,"u":12.58},{"s":"Jaroslau","c":"b","d":27.85,"u":12.46},{"s":"Jaroslau","c":"b","d":28.27,"u":11.87},{"s":"Jaroslau","c":"b","d":28.94,"u":11.34},{"s":"Jaroslau","c":"b","d":29.53,"u":11.31},{"s":"Jaroslau","c":"b","d":30.54,"u":10.99},{"s":"Jaroslau","c":"b","d":31.38,"u":10.75},{"s":"Jaroslau","c":"b","d":32.40,"u":10.67},{"s":"Jaroslau","c":"b","d":33.06,"u":10.71},{"s":"Jaroslau","c":"b","d":33.91,"u":11.08},{"s":"Jaroslau","c":"b","d":34.47,"u":11.74},{"s":"Jaroslau","c":"b","d":34.83,"u":12.33},{"s":"Jaroslau","c":"b","d":35.22,"u":12.55},{"s":"Jaroslau","c":"b","d":35.66,"u":12.39},{"s":"Jaroslau","c":"b","d":36.08,"u":12.07},{"s":"Jaroslau","c":"b","d":36.52,"u":11.74},{"s":"Jaroslau","c":"b","d":37.0,"u":11.28},{"s":"Jaroslau","c":"b","d":37.50,"u":11.08},{"s":"Jaroslau","c":"b","d":37.89,"u":11.25},{"s":"Jaroslau","c":"b","d":38.30,"u":11.44},{"s":"Jaroslau","c":"b","d":38.86,"u":11.74},{"s":"Jaroslau","c":"b","d":39.42,"u":12.01},{"s":"Jaroslau","c":"b","d":40.0,"u":12.17},{"s":"Jaroslau","c":"b","d":41.02,"u":12.07},{"s":"Jaroslau","c":"b","d":42.0,"u":11.98},{"s":"Jaroslau","c":"b","d":42.99,"u":11.88},{"s":"Jaroslau","c":"b","d":43.54,"u":11.74},{"s":"Jaroslau","c":"b","d":44.21,"u":11.66},{"s":"Jaroslau","c":"b","d":45.03,"u":11.51},
{"s":"Lezachuw","c":"b","d":10.0,"u":8.01},{"s":"Lezachuw","c":"b","d":11.69,"u":8.01},{"s":"Lezachuw","c":"b","d":12.07,"u":8.17},{"s":"Lezachuw","c":"b","d":12.39,"u":8.48},{"s":"Lezachuw","c":"b","d":12.71,"u":8.74},{"s":"Lezachuw","c":"b","d":13.12,"u":8.80},{"s":"Lezachuw","c":"b","d":13.60,"u":8.77},{"s":"Lezachuw","c":"b","d":13.98,"u":8.87},{"s":"Lezachuw","c":"b","d":14.40,"u":9.37},{"s":"Lezachuw","c":"b","d":14.88,"u":10.01},{"s":"Lezachuw","c":"b","d":15.20,"u":10.23},{"s":"Lezachuw","c":"b","d":15.51,"u":10.07},{"s":"Lezachuw","c":"b","d":15.99,"u":9.53},{"s":"Lezachuw","c":"b","d":16.47,"u":9.06},{"s":"Lezachuw","c":"b","d":16.98,"u":8.80},{"s":"Lezachuw","c":"b","d":18.0,"u":8.67},{"s":"Lezachuw","c":"b","d":19.02,"u":8.67},{"s":"Lezachuw","c":"b","d":20.43,"u":8.73},{"s":"Lezachuw","c":"b","d":21.70,"u":8.70},{"s":"Lezachuw","c":"b","d":22.03,"u":8.81},{"s":"Lezachuw","c":"b","d":22.37,"u":9.58},{"s":"Lezachuw","c":"b","d":22.71,"u":10.17},{"s":"Lezachuw","c":"b","d":22.96,"u":10.46},{"s":"Lezachuw","c":"b","d":23.47,"u":10.55},{"s":"Lezachuw","c":"b","d":24.05,"u":10.64},{"s":"Lezachuw","c":"b","d":24.48,"u":10.75},{"s":"Lezachuw","c":"b","d":24.85,"u":10.87},{"s":"Lezachuw","c":"b","d":25.23,"u":10.67},{"s":"Lezachuw","c":"b","d":25.65,"u":10.34},{"s":"Lezachuw","c":"b","d":26.03,"u":10.17},{"s":"Lezachuw","c":"b","d":26.50,"u":10.31},{"s":"Lezachuw","c":"b","d":27.0,"u":10.70},{"s":"Lezachuw","c":"b","d":27.55,"u":10.87},{"s":"Lezachuw","c":"b","d":27.93,"u":10.75},{"s":"Lezachuw","c":"b","d":28.43,"u":10.29},{"s":"Lezachuw","c":"b","d":28.94,"u":9.93},{"s":"Lezachuw","c":"b","d":29.53,"u":9.76},{"s":"Lezachuw","c":"b","d":30.20,"u":9.46},{"s":"Lezachuw","c":"b","d":31.13,"u":9.05},{"s":"Lezachuw","c":"b","d":32.23,"u":8.81},{"s":"Lezachuw","c":"b","d":33.24,"u":8.67},{"s":"Lezachuw","c":"b","d":33.91,"u":8.77},{"s":"Lezachuw","c":"b","d":34.28,"u":9.12},{"s":"Lezachuw","c":"b","d":34.75,"u":9.87},{"s":"Lezachuw","c":"b","d":35.12,"u":10.23},{"s":"Lezachuw","c":"b","d":35.78,"u":10.40},{"s":"Lezachuw","c":"b","d":36.43,"u":10.28},{"s":"Lezachuw","c":"b","d":37.09,"u":9.87},{"s":"Lezachuw","c":"b","d":37.64,"u":9.52},{"s":"Lezachuw","c":"b","d":38.21,"u":9.35},{"s":"Lezachuw","c":"b","d":38.86,"u":9.57},{"s":"Lezachuw","c":"b","d":39.52,"u":10.03},{"s":"Lezachuw","c":"b","d":40.03,"u":10.18},{"s":"Lezachuw","c":"b","d":40.73,"u":10.03},{"s":"Lezachuw","c":"b","d":41.66,"u":9.82},{"s":"Lezachuw","c":"b","d":42.60,"u":9.67},{"s":"Lezachuw","c":"b","d":43.54,"u":9.63},{"s":"Lezachuw","c":"b","d":44.38,"u":9.66},{"s":"Lezachuw","c":"b","d":45.03,"u":9.60},
{"s":"Krosno","c":"r","d":10.0,"u":6.74},{"s":"Krosno","c":"r","d":10.99,"u":6.77},{"s":"Krosno","c":"r","d":11.37,"u":7.15},{"s":"Krosno","c":"r","d":11.85,"u":7.53},{"s":"Krosno","c":"r","d":12.17,"u":7.63},{"s":"Krosno","c":"r","d":12.65,"u":7.56},{"s":"Krosno","c":"r","d":13.28,"u":7.31},{"s":"Krosno","c":"r","d":13.92,"u":6.93},{"s":"Krosno","c":"r","d":14.56,"u":6.74},{"s":"Krosno","c":"r","d":15.51,"u":6.51},{"s":"Krosno","c":"r","d":16.47,"u":6.42},{"s":"Krosno","c":"r","d":17.11,"u":6.61},{"s":"Krosno","c":"r","d":17.75,"u":6.93},{"s":"Krosno","c":"r","d":18.22,"u":7.05},{"s":"Krosno","c":"r","d":18.70,"u":6.93},{"s":"Krosno","c":"r","d":19.50,"u":6.74},{"s":"Krosno","c":"r","d":19.98,"u":6.83},{"s":"Krosno","c":"r","d":20.43,"u":7.75},{"s":"Krosno","c":"r","d":20.68,"u":8.34},{"s":"Krosno","c":"r","d":20.94,"u":8.43},{"s":"Krosno","c":"r","d":21.36,"u":8.22},{"s":"Krosno","c":"r","d":21.95,"u":8.05},{"s":"Krosno","c":"r","d":22.45,"u":7.87},{"s":"Krosno","c":"r","d":22.96,"u":7.46},{"s":"Krosno","c":"r","d":23.47,"u":7.12},{"s":"Krosno","c":"r","d":24.12,"u":6.99},{"s":"Krosno","c":"r","d":24.76,"u":7.05},{"s":"Krosno","c":"r","d":25.15,"u":7.12},{"s":"Krosno","c":"r","d":25.82,"u":7.34},{"s":"Krosno","c":"r","d":26.41,"u":7.49},{"s":"Krosno","c":"r","d":26.92,"u":7.28},{"s":"Krosno","c":"r","d":27.31,"u":6.99},{"s":"Krosno","c":"r","d":27.95,"u":6.67},{"s":"Krosno","c":"r","d":28.84,"u":6.47},{"s":"Krosno","c":"r","d":30.02,"u":6.30},{"s":"Krosno","c":"r","d":31.20,"u":6.19},{"s":"Krosno","c":"r","d":32.55,"u":5.97},{"s":"Krosno","c":"r","d":33.05,"u":6.05},{"s":"Krosno","c":"r","d":33.38,"u":6.47},{"s":"Krosno","c":"r","d":33.72,"u":7.0},{"s":"Krosno","c":"r","d":34.28,"u":7.31},{"s":"Krosno","c":"r","d":34.93,"u":7.15},{"s":"Krosno","c":"r","d":35.87,"u":6.65},{"s":"Krosno","c":"r","d":36.62,"u":6.50},{"s":"Krosno","c":"r","d":37.18,"u":6.65},{"s":"Krosno","c":"r","d":37.74,"u":7.10},{"s":"Krosno","c":"r","d":38.21,"u":7.21},{"s":"Krosno","c":"r","d":39.05,"u":7.03},{"s":"Krosno","c":"r","d":40.07,"u":6.75},{"s":"Krosno","c":"r","d":41.10,"u":6.60},{"s":"Krosno","c":"r","d":42.04,"u":6.50},{"s":"Krosno","c":"r","d":42.97,"u":6.27},{"s":"Krosno","c":"r","d":45.03,"u":6.29},
{"s":"Rzeszuw","c":"r","d":10.0,"u":4.51},{"s":"Rzeszuw","c":"r","d":12.01,"u":4.51},{"s":"Rzeszuw","c":"r","d":12.17,"u":4.61},{"s":"Rzeszuw","c":"r","d":12.39,"u":5.40},{"s":"Rzeszuw","c":"r","d":12.65,"u":5.88},{"s":"Rzeszuw","c":"r","d":13.0,"u":6.13},{"s":"Rzeszuw","c":"r","d":13.44,"u":5.97},{"s":"Rzeszuw","c":"r","d":13.98,"u":5.40},{"s":"Rzeszuw","c":"r","d":14.56,"u":5.15},{"s":"Rzeszuw","c":"r","d":15.20,"u":5.08},{"s":"Rzeszuw","c":"r","d":15.99,"u":4.93},{"s":"Rzeszuw","c":"r","d":16.79,"u":4.77},{"s":"Rzeszuw","c":"r","d":18.0,"u":4.61},{"s":"Rzeszuw","c":"r","d":19.02,"u":4.39},{"s":"Rzeszuw","c":"r","d":19.98,"u":4.45},{"s":"Rzeszuw","c":"r","d":20.62,"u":4.93},{"s":"Rzeszuw","c":"r","d":21.09,"u":5.53},{"s":"Rzeszuw","c":"r","d":21.51,"u":6.48},{"s":"Rzeszuw","c":"r","d":21.83,"u":6.74},{"s":"Rzeszuw","c":"r","d":22.15,"u":6.83},{"s":"Rzeszuw","c":"r","d":22.61,"u":6.47},{"s":"Rzeszuw","c":"r","d":23.20,"u":5.86},{"s":"Rzeszuw","c":"r","d":23.87,"u":5.40},{"s":"Rzeszuw","c":"r","d":24.63,"u":5.22},{"s":"Rzeszuw","c":"r","d":25.47,"u":5.40},{"s":"Rzeszuw","c":"r","d":26.15,"u":5.47},{"s":"Rzeszuw","c":"r","d":26.98,"u":5.47},{"s":"Rzeszuw","c":"r","d":27.92,"u":5.69},{"s":"Rzeszuw","c":"r","d":28.34,"u":5.55},{"s":"Rzeszuw","c":"r","d":28.84,"u":5.14},{"s":"Rzeszuw","c":"r","d":29.52,"u":4.98},{"s":"Rzeszuw","c":"r","d":30.02,"u":4.72},{"s":"Rzeszuw","c":"r","d":30.44,"u":4.52},{"s":"Rzeszuw","c":"r","d":31.03,"u":4.46},{"s":"Rzeszuw","c":"r","d":32.04,"u":4.58},{"s":"Rzeszuw","c":"r","d":32.97,"u":4.52},{"s":"Rzeszuw","c":"r","d":33.73,"u":4.72},{"s":"Rzeszuw","c":"r","d":34.0,"u":4.76},{"s":"Rzeszuw","c":"r","d":34.49,"u":5.33},{"s":"Rzeszuw","c":"r","d":35.0,"u":5.74},{"s":"Rzeszuw","c":"r","d":35.25,"u":5.71},{"s":"Rzeszuw","c":"r","d":35.94,"u":5.31},{"s":"Rzeszuw","c":"r","d":36.78,"u":4.98},{"s":"Rzeszuw","c":"r","d":37.64,"u":4.80},{"s":"Rzeszuw","c":"r","d":38.06,"u":4.89},{"s":"Rzeszuw","c":"r","d":38.57,"u":5.33},{"s":"Rzeszuw","c":"r","d":39.08,"u":5.62},{"s":"Rzeszuw","c":"r","d":40.02,"u":5.33},{"s":"Rzeszuw","c":"r","d":41.04,"u":5.09},{"s":"Rzeszuw","c":"r","d":41.97,"u":5.02},{"s":"Rzeszuw","c":"r","d":42.99,"u":5.14},{"s":"Rzeszuw","c":"r","d":43.84,"u":5.14},{"s":"Rzeszuw","c":"r","d":44.44,"u":5.02},{"s":"Rzeszuw","c":"r","d":45.03,"u":4.87},
{"s":"Rudnik","c":"b","d":10.0,"u":2.12},{"s":"Rudnik","c":"b","d":13.16,"u":2.11},{"s":"Rudnik","c":"b","d":13.60,"u":2.22},{"s":"Rudnik","c":"b","d":14.05,"u":2.52},{"s":"Rudnik","c":"b","d":14.56,"u":3.02},{"s":"Rudnik","c":"b","d":15.20,"u":3.65},{"s":"Rudnik","c":"b","d":15.67,"u":3.97},{"s":"Rudnik","c":"b","d":15.99,"u":4.07},{"s":"Rudnik","c":"b","d":16.47,"u":3.97},{"s":"Rudnik","c":"b","d":16.98,"u":3.75},{"s":"Rudnik","c":"b","d":17.75,"u":3.50},{"s":"Rudnik","c":"b","d":18.38,"u":3.18},{"s":"Rudnik","c":"b","d":19.02,"u":2.86},{"s":"Rudnik","c":"b","d":19.50,"u":2.64},{"s":"Rudnik","c":"b","d":19.98,"u":2.52},{"s":"Rudnik","c":"b","d":20.46,"u":2.67},{"s":"Rudnik","c":"b","d":21.09,"u":2.74},{"s":"Rudnik","c":"b","d":21.94,"u":2.81},{"s":"Rudnik","c":"b","d":22.36,"u":3.40},{"s":"Rudnik","c":"b","d":22.78,"u":4.72},{"s":"Rudnik","c":"b","d":23.03,"u":5.07},{"s":"Rudnik","c":"b","d":23.32,"u":5.17},{"s":"Rudnik","c":"b","d":23.70,"u":5.02},{"s":"Rudnik","c":"b","d":24.21,"u":4.63},{"s":"Rudnik","c":"b","d":24.80,"u":4.15},{"s":"Rudnik","c":"b","d":25.30,"u":3.99},{"s":"Rudnik","c":"b","d":25.81,"u":4.08},{"s":"Rudnik","c":"b","d":26.48,"u":4.37},{"s":"Rudnik","c":"b","d":26.99,"u":4.45},{"s":"Rudnik","c":"b","d":27.58,"u":4.32},{"s":"Rudnik","c":"b","d":28.50,"u":4.19},{"s":"Rudnik","c":"b","d":29.01,"u":4.08},{"s":"Rudnik","c":"b","d":29.94,"u":3.62},{"s":"Rudnik","c":"b","d":30.78,"u":3.40},{"s":"Rudnik","c":"b","d":31.87,"u":3.10},{"s":"Rudnik","c":"b","d":32.97,"u":2.79},{"s":"Rudnik","c":"b","d":33.98,"u":2.74},{"s":"Rudnik","c":"b","d":35.0,"u":2.81},{"s":"Rudnik","c":"b","d":35.51,"u":3.40},{"s":"Rudnik","c":"b","d":35.93,"u":3.97},{"s":"Rudnik","c":"b","d":36.36,"u":4.19},{"s":"Rudnik","c":"b","d":37.04,"u":3.97},{"s":"Rudnik","c":"b","d":37.72,"u":3.49},{"s":"Rudnik","c":"b","d":38.49,"u":3.23},{"s":"Rudnik","c":"b","d":39.08,"u":3.40},{"s":"Rudnik","c":"b","d":39.76,"u":3.71},{"s":"Rudnik","c":"b","d":40.78,"u":3.88},{"s":"Rudnik","c":"b","d":41.80,"u":3.75},{"s":"Rudnik","c":"b","d":42.91,"u":3.58},{"s":"Rudnik","c":"b","d":43.67,"u":3.66},{"s":"Rudnik","c":"b","d":44.19,"u":3.64},{"s":"Rudnik","c":"b","d":45.03,"u":3.49},
{"s":"Majdan","c":"b","d":10.0,"u":0.60},{"s":"Majdan","c":"b","d":11.90,"u":0.72},{"s":"Majdan","c":"b","d":13.04,"u":0.86},{"s":"Majdan","c":"b","d":14.05,"u":1.01},{"s":"Majdan","c":"b","d":14.55,"u":1.43},{"s":"Majdan","c":"b","d":15.06,"u":1.87},{"s":"Majdan","c":"b","d":15.82,"u":2.52},{"s":"Majdan","c":"b","d":16.15,"u":3.30},{"s":"Majdan","c":"b","d":16.44,"u":3.62},{"s":"Majdan","c":"b","d":16.73,"u":3.30},{"s":"Majdan","c":"b","d":17.08,"u":2.52},{"s":"Majdan","c":"b","d":17.96,"u":1.96},{"s":"Majdan","c":"b","d":18.97,"u":1.47},{"s":"Majdan","c":"b","d":19.98,"u":1.34},{"s":"Majdan","c":"b","d":21.13,"u":1.37},{"s":"Majdan","c":"b","d":21.88,"u":1.47},{"s":"Majdan","c":"b","d":22.26,"u":1.96},{"s":"Majdan","c":"b","d":22.51,"u":2.52},{"s":"Majdan","c":"b","d":22.69,"u":3.18},{"s":"Majdan","c":"b","d":23.03,"u":3.47},{"s":"Majdan","c":"b","d":23.37,"u":3.23},{"s":"Majdan","c":"b","d":23.87,"u":2.88},{"s":"Majdan","c":"b","d":24.71,"u":2.76},{"s":"Majdan","c":"b","d":25.47,"u":2.83},{"s":"Majdan","c":"b","d":26.31,"u":3.05},{"s":"Majdan","c":"b","d":26.98,"u":3.27},{"s":"Majdan","c":"b","d":27.83,"u":3.14},{"s":"Majdan","c":"b","d":28.93,"u":2.79},{"s":"Majdan","c":"b","d":29.94,"u":2.39},{"s":"Majdan","c":"b","d":30.95,"u":1.95},{"s":"Majdan","c":"b","d":32.04,"u":1.89},{"s":"Majdan","c":"b","d":33.05,"u":1.84},{"s":"Majdan","c":"b","d":33.90,"u":1.80},{"s":"Majdan","c":"b","d":34.49,"u":2.0},{"s":"Majdan","c":"b","d":35.0,"u":2.43},{"s":"Majdan","c":"b","d":35.59,"u":2.88},{"s":"Majdan","c":"b","d":36.15,"u":3.03},{"s":"Majdan","c":"b","d":36.62,"u":2.83},{"s":"Majdan","c":"b","d":37.47,"u":2.52},{"s":"Majdan","c":"b","d":38.49,"u":2.39},{"s":"Majdan","c":"b","d":39.17,"u":2.50},{"s":"Majdan","c":"b","d":40.27,"u":2.75},{"s":"Majdan","c":"b","d":41.04,"u":2.74},{"s":"Majdan","c":"b","d":42.14,"u":2.57},{"s":"Majdan","c":"b","d":42.99,"u":2.50},{"s":"Majdan","c":"b","d":43.84,"u":2.47},{"s":"Majdan","c":"b","d":45.03,"u":2.35}
],
"comp": [
{"s":"A1","c":"g","k":"d","d":10.01,"u":46.96},{"s":"A1","c":"g","k":"d","d":10.95,"u":47.16},{"s":"A1","c":"g","k":"d","d":11.50,"u":47.78},{"s":"A1","c":"g","k":"d","d":11.84,"u":48.22},{"s":"A1","c":"g","k":"d","d":12.15,"u":48.42},{"s":"A1","c":"g","k":"d","d":12.62,"u":48.29},{"s":"A1","c":"g","k":"d","d":13.10,"u":48.0},
{"s":"N1","c":"r","k":"d","d":11.7,"u":44.87},{"s":"N1","c":"r","k":"d","d":12.34,"u":45.22},{"s":"N1","c":"r","k":"d","d":12.76,"u":45.76},{"s":"N1","c":"r","k":"d","d":13.05,"u":46.08},{"s":"N1","c":"r","k":"d","d":13.27,"u":45.96},{"s":"N1","c":"r","k":"d","d":13.66,"u":45.36},{"s":"N1","c":"r","k":"d","d":14.1,"u":45.03},{"s":"N1","c":"r","k":"d","d":14.56,"u":45.0},
{"s":"Z1","c":"r","k":"d","d":10.01,"u":43.58},{"s":"Z1","c":"r","k":"d","d":10.95,"u":43.68},{"s":"Z1","c":"r","k":"d","d":11.5,"u":44.04},{"s":"Z1","c":"r","k":"d","d":12.0,"u":44.55},{"s":"Z1","c":"r","k":"d","d":12.5,"u":44.95},{"s":"Z1","c":"r","k":"d","d":13.05,"u":45.25},{"s":"Z1","c":"r","k":"d","d":13.42,"u":45.05},{"s":"Z1","c":"r","k":"d","d":13.9,"u":44.70},{"s":"Z1","c":"r","k":"d","d":14.56,"u":44.52},
{"s":"C1","c":"b","k":"d","d":10.01,"u":42.10},{"s":"C1","c":"b","k":"d","d":10.8,"u":42.15},{"s":"C1","c":"b","k":"d","d":11.33,"u":42.53},{"s":"C1","c":"b","k":"d","d":11.84,"u":42.99},{"s":"C1","c":"b","k":"d","d":12.1,"u":43.13},{"s":"C1","c":"b","k":"d","d":12.42,"u":42.99},{"s":"C1","c":"b","k":"d","d":12.92,"u":42.50},{"s":"C1","c":"b","k":"d","d":13.5,"u":42.16},{"s":"C1","c":"b","k":"d","d":14.3,"u":42.14},
{"s":"Zb1","c":"r","k":"d","d":12.1,"u":39.76},{"s":"Zb1","c":"r","k":"d","d":12.65,"u":40.66},{"s":"Zb1","c":"r","k":"d","d":13.1,"u":41.17},{"s":"Zb1","c":"r","k":"d","d":13.42,"u":40.85},{"s":"Zb1","c":"r","k":"d","d":13.94,"u":40.12},{"s":"Zb1","c":"r","k":"d","d":14.6,"u":39.64},
{"s":"Zm1","c":"g","k":"s","d":20.35,"u":37.8},{"s":"Zm1","c":"g","k":"s","d":20.75,"u":38.22},{"s":"Zm1","c":"g","k":"s","d":21.05,"u":38.46},{"s":"Zm1","c":"g","k":"s","d":21.2,"u":38.53},{"s":"Zm1","c":"g","k":"s","d":21.55,"u":38.37},{"s":"Zm1","c":"g","k":"s","d":21.95,"u":38.0},{"s":"Zm1","c":"g","k":"s","d":22.5,"u":37.58},{"s":"Zm1","c":"g","k":"s","d":22.95,"u":37.33},
{"s":"Zo1","c":"g","k":"d","d":11.0,"u":35.22},{"s":"Zo1","c":"g","k":"d","d":11.42,"u":35.58},{"s":"Zo1","c":"g","k":"d","d":11.9,"u":36.02},{"s":"Zo1","c":"g","k":"d","d":12.2,"u":36.11},{"s":"Zo1","c":"g","k":"d","d":12.65,"u":35.98},{"s":"Zo1","c":"g","k":"d","d":13.3,"u":35.83},{"s":"Zo1","c":"g","k":"d","d":14.0,"u":35.68},{"s":"Zo1","c":"g","k":"d","d":14.5,"u":35.6},
{"s":"Zo2","c":"g","k":"d","d":20.35,"u":35.52},{"s":"Zo2","c":"g","k":"d","d":20.8,"u":35.84},{"s":"Zo2","c":"g","k":"d","d":21.25,"u":35.92},{"s":"Zo2","c":"g","k":"d","d":21.7,"u":35.87},{"s":"Zo2","c":"g","k":"d","d":22.0,"u":35.83},{"s":"Zo2","c":"g","k":"d","d":22.5,"u":35.62},{"s":"Zo2","c":"g","k":"d","d":22.95,"u":35.46},
{"s":"L1","c":"g","k":"d","d":11.55,"u":32.52},{"s":"L1","c":"g","k":"d","d":12.0,"u":32.95},{"s":"L1","c":"g","k":"d","d":12.4,"u":33.38},{"s":"L1","c":"g","k":"d","d":12.75,"u":33.83},{"s":"L1","c":"g","k":"d","d":13.02,"u":34.02},{"s":"L1","c":"g","k":"d","d":13.35,"u":33.92},{"s":"L1","c":"g","k":"d","d":13.75,"u":33.38},{"s":"L1","c":"g","k":"d","d":14.3,"u":33.05},
{"s":"G1","c":"g","k":"d","d":12.28,"u":27.95},{"s":"G1","c":"g","k":"d","d":12.48,"u":28.56},{"s":"G1","c":"g","k":"d","d":12.68,"u":29.66},{"s":"G1","c":"g","k":"d","d":12.88,"u":30.75},{"s":"G1","c":"g","k":"d","d":13.0,"u":31.28},{"s":"G1","c":"g","k":"d","d":13.2,"u":31.48},{"s":"G1","c":"g","k":"d","d":13.44,"u":31.43},{"s":"G1","c":"g","k":"d","d":13.6,"u":31.3},
{"s":"P1","c":"b","k":"d","d":11.3,"u":25.22},{"s":"P1","c":"b","k":"d","d":11.5,"u":26.14},{"s":"P1","c":"b","k":"d","d":11.72,"u":26.93},{"s":"P1","c":"b","k":"d","d":11.92,"u":27.31},{"s":"P1","c":"b","k":"d","d":12.1,"u":27.43},{"s":"P1","c":"b","k":"d","d":12.33,"u":27.25},{"s":"P1","c":"b","k":"d","d":12.8,"u":26.93},
{"s":"O1","c":"b","k":"d","d":10.0,"u":23.85},{"s":"O1","c":"b","k":"d","d":10.55,"u":24.02},{"s":"O1","c":"b","k":"d","d":10.95,"u":24.43},{"s":"O1","c":"b","k":"d","d":11.37,"u":24.88},{"s":"O1","c":"b","k":"d","d":11.78,"u":25.38},{"s":"O1","c":"b","k":"d","d":12.1,"u":25.66},{"s":"O1","c":"b","k":"d","d":12.55,"u":25.66},{"s":"O1","c":"b","k":"d","d":12.96,"u":25.63},{"s":"O1","c":"b","k":"d","d":13.36,"u":25.66},{"s":"O1","c":"b","k":"d","d":13.76,"u":25.71},{"s":"O1","c":"b","k":"d","d":14.03,"u":25.64},{"s":"O1","c":"b","k":"d","d":14.27,"u":25.24},{"s":"O1","c":"b","k":"d","d":14.6,"u":24.64},{"s":"O1","c":"b","k":"d","d":14.95,"u":24.39},{"s":"O1","c":"b","k":"d","d":15.55,"u":24.35},
{"s":"B1","c":"b","k":"d","d":12.45,"u":21.6},{"s":"B1","c":"b","k":"d","d":12.6,"u":22.62},{"s":"B1","c":"b","k":"d","d":12.73,"u":23.88},{"s":"B1","c":"b","k":"d","d":12.9,"u":24.73},{"s":"B1","c":"b","k":"d","d":13.12,"u":24.99},{"s":"B1","c":"b","k":"d","d":13.27,"u":24.93},{"s":"B1","c":"b","k":"d","d":13.45,"u":24.38},{"s":"B1","c":"b","k":"d","d":13.72,"u":23.36},{"s":"B1","c":"b","k":"d","d":13.99,"u":22.61},{"s":"B1","c":"b","k":"d","d":14.34,"u":22.11},{"s":"B1","c":"b","k":"d","d":14.7,"u":21.8},{"s":"B1","c":"b","k":"d","d":15.2,"u":21.67},{"s":"B1","c":"b","k":"d","d":15.55,"u":21.64},
{"s":"B2","c":"b","k":"d","d":21.33,"u":21.83},{"s":"B2","c":"b","k":"d","d":21.68,"u":22.6},{"s":"B2","c":"b","k":"d","d":22.12,"u":23.01},{"s":"B2","c":"b","k":"d","d":22.43,"u":22.85},{"s":"B2","c":"b","k":"d","d":22.76,"u":22.14},{"s":"B2","c":"b","k":"d","d":23.1,"u":21.9},{"s":"B2","c":"b","k":"d","d":23.5,"u":21.82},
{"s":"Pr1","c":"b","k":"s","d":10.0,"u":18.51},{"s":"Pr1","c":"b","k":"s","d":11.87,"u":18.51},{"s":"Pr1","c":"b","k":"s","d":12.85,"u":18.56},{"s":"Pr1","c":"b","k":"s","d":13.2,"u":18.73},{"s":"Pr1","c":"b","k":"s","d":13.4,"u":19.2},{"s":"Pr1","c":"b","k":"s","d":13.6,"u":20.1},{"s":"Pr1","c":"b","k":"s","d":13.8,"u":20.9},{"s":"Pr1","c":"b","k":"s","d":14.05,"u":21.1},{"s":"Pr1","c":"b","k":"s","d":14.28,"u":21.0},{"s":"Pr1","c":"b","k":"s","d":14.68,"u":20.44},{"s":"Pr1","c":"b","k":"s","d":15.22,"u":19.79},{"s":"Pr1","c":"b","k":"s","d":15.92,"u":19.51},{"s":"Pr1","c":"b","k":"s","d":16.59,"u":19.46},{"s":"Pr1","c":"b","k":"s","d":17.0,"u":19.36},{"s":"Pr1","c":"b","k":"s","d":17.54,"u":19.08},{"s":"Pr1","c":"b","k":"s","d":17.94,"u":18.91},{"s":"Pr1","c":"b","k":"s","d":19.29,"u":18.91},{"s":"Pr1","c":"b","k":"s","d":20.97,"u":18.89},
{"s":"Pr2","c":"b","k":"d","d":21.28,"u":19.2},{"s":"Pr2","c":"b","k":"d","d":21.48,"u":20.0},{"s":"Pr2","c":"b","k":"d","d":21.69,"u":21.26},{"s":"Pr2","c":"b","k":"d","d":21.95,"u":22.0},{"s":"Pr2","c":"b","k":"d","d":22.25,"u":22.25},{"s":"Pr2","c":"b","k":"d","d":22.63,"u":22.04},{"s":"Pr2","c":"b","k":"d","d":23.1,"u":21.59},{"s":"Pr2","c":"b","k":"d","d":23.64,"u":20.94},{"s":"Pr2","c":"b","k":"d","d":24.18,"u":20.43},{"s":"Pr2","c":"b","k":"d","d":24.72,"u":20.23},{"s":"Pr2","c":"b","k":"d","d":25.26,"u":19.88},{"s":"Pr2","c":"b","k":"d","d":25.94,"u":19.23},{"s":"Pr2","c":"b","k":"d","d":26.5,"u":18.87},
{"s":"K1","c":"g","k":"s","d":20.43,"u":17.36},{"s":"K1","c":"g","k":"s","d":21.11,"u":17.54},{"s":"K1","c":"g","k":"s","d":21.65,"u":17.81},{"s":"K1","c":"g","k":"s","d":22.0,"u":18.17},{"s":"K1","c":"g","k":"s","d":22.2,"u":18.72},{"s":"K1","c":"g","k":"s","d":22.25,"u":20.0},{"s":"K1","c":"g","k":"s","d":22.32,"u":21.26},{"s":"K1","c":"g","k":"s","d":22.42,"u":21.6},{"s":"K1","c":"g","k":"s","d":22.56,"u":21.72},{"s":"K1","c":"g","k":"s","d":22.75,"u":21.6},
{"s":"K2","c":"g","k":"d","d":22.75,"u":21.6},{"s":"K2","c":"g","k":"d","d":22.9,"u":21.0},{"s":"K2","c":"g","k":"d","d":23.03,"u":20.0},{"s":"K2","c":"g","k":"d","d":23.24,"u":18.98},{"s":"K2","c":"g","k":"d","d":23.5,"u":18.47},{"s":"K2","c":"g","k":"d","d":23.97,"u":17.96},{"s":"K2","c":"g","k":"d","d":24.5,"u":17.74},
{"s":"R1","c":"b","k":"s","d":10.0,"u":11.58},{"s":"R1","c":"b","k":"s","d":12.81,"u":11.58},{"s":"R1","c":"b","k":"s","d":13.03,"u":11.85},{"s":"R1","c":"b","k":"s","d":13.32,"u":12.97},{"s":"R1","c":"b","k":"s","d":13.64,"u":14.23},{"s":"R1","c":"b","k":"s","d":13.95,"u":14.7},{"s":"R1","c":"b","k":"s","d":14.3,"u":14.92},{"s":"R1","c":"b","k":"s","d":14.7,"u":14.55},{"s":"R1","c":"b","k":"s","d":15.02,"u":14.23},{"s":"R1","c":"b","k":"s","d":15.5,"u":13.9},{"s":"R1","c":"b","k":"s","d":15.99,"u":13.74},{"s":"R1","c":"b","k":"s","d":16.79,"u":13.42},{"s":"R1","c":"b","k":"s","d":17.43,"u":12.95},{"s":"R1","c":"b","k":"s","d":18.0,"u":12.63},{"s":"R1","c":"b","k":"s","d":18.7,"u":12.41},{"s":"R1","c":"b","k":"s","d":19.66,"u":12.31},{"s":"R1","c":"b","k":"s","d":20.43,"u":12.18},{"s":"R1","c":"b","k":"s","d":20.85,"u":12.2},
{"s":"R2","c":"b","k":"d","d":20.85,"u":12.2},{"s":"R2","c":"b","k":"d","d":21.27,"u":12.57},{"s":"R2","c":"b","k":"d","d":21.48,"u":13.63},{"s":"R2","c":"b","k":"d","d":21.74,"u":14.8},{"s":"R2","c":"b","k":"d","d":22.04,"u":16.14},{"s":"R2","c":"b","k":"d","d":22.43,"u":17.47},{"s":"R2","c":"b","k":"d","d":22.7,"u":18.42},{"s":"R2","c":"b","k":"d","d":22.82,"u":18.52},{"s":"R2","c":"b","k":"d","d":22.97,"u":18.37},{"s":"R2","c":"b","k":"d","d":23.16,"u":17.72},{"s":"R2","c":"b","k":"d","d":23.36,"u":16.71},{"s":"R2","c":"b","k":"d","d":23.63,"u":16.1},{"s":"R2","c":"b","k":"d","d":23.94,"u":15.92},{"s":"R2","c":"b","k":"d","d":24.64,"u":15.8},{"s":"R2","c":"b","k":"d","d":24.95,"u":15.57},{"s":"R2","c":"b","k":"d","d":25.45,"u":14.74},{"s":"R2","c":"b","k":"d","d":25.9,"u":14.3},{"s":"R2","c":"b","k":"d","d":26.83,"u":14.15},{"s":"R2","c":"b","k":"d","d":27.51,"u":13.91},
{"s":"J1","c":"b","k":"s","d":10.0,"u":9.77},{"s":"J1","c":"b","k":"s","d":13.0,"u":9.77},{"s":"J1","c":"b","k":"s","d":13.32,"u":10.1},{"s":"J1","c":"b","k":"s","d":13.8,"u":10.73},{"s":"J1","c":"b","k":"s","d":14.28,"u":11.53},{"s":"J1","c":"b","k":"s","d":14.75,"u":12.07},{"s":"J1","c":"b","k":"s","d":15.04,"u":12.19},{"s":"J1","c":"b","k":"s","d":15.48,"u":11.94},{"s":"J1","c":"b","k":"s","d":15.97,"u":11.52},{"s":"J1","c":"b","k":"s","d":16.79,"u":11.04},{"s":"J1","c":"b","k":"s","d":18.0,"u":10.72},{"s":"J1","c":"b","k":"s","d":19.02,"u":10.63},{"s":"J1","c":"b","k":"s","d":19.98,"u":10.53},{"s":"J1","c":"b","k":"s","d":20.43,"u":10.41},{"s":"J1","c":"b","k":"s","d":20.85,"u":10.47},{"s":"J1","c":"b","k":"s","d":21.31,"u":10.98},{"s":"J1","c":"b","k":"s","d":21.98,"u":12.16},{"s":"J1","c":"b","k":"s","d":22.48,"u":13.1},{"s":"J1","c":"b","k":"s","d":22.99,"u":13.92},
{"s":"J2","c":"b","k":"d","d":22.99,"u":13.92},{"s":"J2","c":"b","k":"d","d":23.58,"u":14.63},{"s":"J2","c":"b","k":"d","d":24.01,"u":14.91},{"s":"J2","c":"b","k":"d","d":24.36,"u":14.82},{"s":"J2","c":"b","k":"d","d":24.77,"u":14.51},{"s":"J2","c":"b","k":"d","d":25.11,"u":13.92},{"s":"J2","c":"b","k":"d","d":25.45,"u":13.1},{"s":"J2","c":"b","k":"d","d":25.79,"u":12.45},{"s":"J2","c":"b","k":"d","d":26.03,"u":12.26},{"s":"J2","c":"b","k":"d","d":26.83,"u":12.38},{"s":"J2","c":"b","k":"d","d":27.42,"u":12.5},{"s":"J2","c":"b","k":"d","d":27.82,"u":12.39},{"s":"J2","c":"b","k":"d","d":28.23,"u":11.8},{"s":"J2","c":"b","k":"d","d":28.5,"u":11.5},
{"s":"Le1","c":"b","k":"s","d":10.0,"u":7.93},{"s":"Le1","c":"b","k":"s","d":11.69,"u":7.93},{"s":"Le1","c":"b","k":"s","d":12.1,"u":8.09},{"s":"Le1","c":"b","k":"s","d":12.42,"u":8.4},{"s":"Le1","c":"b","k":"s","d":12.74,"u":8.66},{"s":"Le1","c":"b","k":"s","d":13.12,"u":8.72},{"s":"Le1","c":"b","k":"s","d":13.6,"u":8.69},{"s":"Le1","c":"b","k":"s","d":13.98,"u":8.79},{"s":"Le1","c":"b","k":"s","d":14.43,"u":9.29},{"s":"Le1","c":"b","k":"s","d":14.9,"u":9.93},{"s":"Le1","c":"b","k":"s","d":15.2,"u":10.15},{"s":"Le1","c":"b","k":"s","d":15.48,"u":9.99},{"s":"Le1","c":"b","k":"s","d":15.96,"u":9.45},{"s":"Le1","c":"b","k":"s","d":16.44,"u":8.98},{"s":"Le1","c":"b","k":"s","d":16.98,"u":8.72},{"s":"Le1","c":"b","k":"s","d":18.0,"u":8.59},{"s":"Le1","c":"b","k":"s","d":19.02,"u":8.59},{"s":"Le1","c":"b","k":"s","d":20.43,"u":8.65},{"s":"Le1","c":"b","k":"s","d":21.7,"u":8.62},{"s":"Le1","c":"b","k":"s","d":22.06,"u":8.73},{"s":"Le1","c":"b","k":"s","d":22.4,"u":9.5},{"s":"Le1","c":"b","k":"s","d":22.74,"u":10.09},{"s":"Le1","c":"b","k":"s","d":22.98,"u":10.38},{"s":"Le1","c":"b","k":"s","d":23.47,"u":10.47},{"s":"Le1","c":"b","k":"s","d":24.05,"u":10.56},{"s":"Le1","c":"b","k":"s","d":24.48,"u":10.67},
{"s":"Le2","c":"b","k":"d","d":24.48,"u":10.67},{"s":"Le2","c":"b","k":"d","d":24.85,"u":10.79},{"s":"Le2","c":"b","k":"d","d":25.2,"u":10.59},{"s":"Le2","c":"b","k":"d","d":25.62,"u":10.26},{"s":"Le2","c":"b","k":"d","d":26.03,"u":10.09},{"s":"Le2","c":"b","k":"d","d":26.53,"u":10.23},{"s":"Le2","c":"b","k":"d","d":27.03,"u":10.62},{"s":"Le2","c":"b","k":"d","d":27.55,"u":10.79},{"s":"Le2","c":"b","k":"d","d":27.9,"u":10.67},{"s":"Le2","c":"b","k":"d","d":28.4,"u":10.21},{"s":"Le2","c":"b","k":"d","d":28.94,"u":9.85},{"s":"Le2","c":"b","k":"d","d":29.45,"u":9.68},
{"s":"Ru1","c":"b","k":"s","d":10.0,"u":2.04},{"s":"Ru1","c":"b","k":"s","d":13.16,"u":2.03},{"s":"Ru1","c":"b","k":"s","d":13.62,"u":2.14},{"s":"Ru1","c":"b","k":"s","d":14.08,"u":2.44},{"s":"Ru1","c":"b","k":"s","d":14.6,"u":2.94},{"s":"Ru1","c":"b","k":"s","d":15.22,"u":3.57},{"s":"Ru1","c":"b","k":"s","d":15.67,"u":3.89},{"s":"Ru1","c":"b","k":"s","d":15.99,"u":3.99},{"s":"Ru1","c":"b","k":"s","d":16.44,"u":3.89},{"s":"Ru1","c":"b","k":"s","d":16.95,"u":3.67},{"s":"Ru1","c":"b","k":"s","d":17.72,"u":3.42},{"s":"Ru1","c":"b","k":"s","d":18.35,"u":3.1},{"s":"Ru1","c":"b","k":"s","d":19.0,"u":2.78},{"s":"Ru1","c":"b","k":"s","d":19.5,"u":2.56},{"s":"Ru1","c":"b","k":"s","d":19.98,"u":2.44},{"s":"Ru1","c":"b","k":"s","d":20.46,"u":2.59},{"s":"Ru1","c":"b","k":"s","d":21.09,"u":2.66},{"s":"Ru1","c":"b","k":"s","d":21.94,"u":2.73},{"s":"Ru1","c":"b","k":"s","d":22.4,"u":3.32},{"s":"Ru1","c":"b","k":"s","d":22.82,"u":4.64},{"s":"Ru1","c":"b","k":"s","d":23.05,"u":4.99},
{"s":"Ru2","c":"b","k":"d","d":23.05,"u":4.99},{"s":"Ru2","c":"b","k":"d","d":23.32,"u":5.09},{"s":"Ru2","c":"b","k":"d","d":23.67,"u":4.94},{"s":"Ru2","c":"b","k":"d","d":24.17,"u":4.55},{"s":"Ru2","c":"b","k":"d","d":24.76,"u":4.07},{"s":"Ru2","c":"b","k":"d","d":25.3,"u":3.91},{"s":"Ru2","c":"b","k":"d","d":25.81,"u":4.0},{"s":"Ru2","c":"b","k":"d","d":26.48,"u":4.29},{"s":"Ru2","c":"b","k":"d","d":26.99,"u":4.37},{"s":"Ru2","c":"b","k":"d","d":27.58,"u":4.24},{"s":"Ru2","c":"b","k":"d","d":28.45,"u":4.11},
{"s":"M1","c":"b","k":"s","d":10.0,"u":0.52},{"s":"M1","c":"b","k":"s","d":11.9,"u":0.64},{"s":"M1","c":"b","k":"s","d":13.04,"u":0.78},{"s":"M1","c":"b","k":"s","d":14.05,"u":0.93},{"s":"M1","c":"b","k":"s","d":14.58,"u":1.35},{"s":"M1","c":"b","k":"s","d":15.1,"u":1.79},{"s":"M1","c":"b","k":"s","d":15.85,"u":2.44},{"s":"M1","c":"b","k":"s","d":16.17,"u":3.22},{"s":"M1","c":"b","k":"s","d":16.44,"u":3.54},{"s":"M1","c":"b","k":"s","d":16.7,"u":3.22},{"s":"M1","c":"b","k":"s","d":17.05,"u":2.44},{"s":"M1","c":"b","k":"s","d":17.94,"u":1.88},{"s":"M1","c":"b","k":"s","d":18.97,"u":1.39},{"s":"M1","c":"b","k":"s","d":19.98,"u":1.26},{"s":"M1","c":"b","k":"s","d":21.13,"u":1.29},{"s":"M1","c":"b","k":"s","d":21.88,"u":1.39},{"s":"M1","c":"b","k":"s","d":22.29,"u":1.88},{"s":"M1","c":"b","k":"s","d":22.54,"u":2.44},{"s":"M1","c":"b","k":"s","d":22.72,"u":3.1},{"s":"M1","c":"b","k":"s","d":23.03,"u":3.39},
{"s":"M2","c":"b","k":"d","d":23.03,"u":3.39},{"s":"M2","c":"b","k":"d","d":23.34,"u":3.15},{"s":"M2","c":"b","k":"d","d":23.85,"u":2.8},{"s":"M2","c":"b","k":"d","d":24.71,"u":2.68},{"s":"M2","c":"b","k":"d","d":25.47,"u":2.75},{"s":"M2","c":"b","k":"d","d":26.31,"u":2.97},{"s":"M2","c":"b","k":"d","d":26.5,"u":3.02},
{"s":"Rz1","c":"r","k":"d","d":12.2,"u":4.53},{"s":"Rz1","c":"r","k":"d","d":12.42,"u":5.32},{"s":"Rz1","c":"r","k":"d","d":12.68,"u":5.8},{"s":"Rz1","c":"r","k":"d","d":13.02,"u":6.05},{"s":"Rz1","c":"r","k":"d","d":13.42,"u":5.89},{"s":"Rz1","c":"r","k":"d","d":13.95,"u":5.32},{"s":"Rz1","c":"r","k":"d","d":14.5,"u":5.08},
{"s":"Kr1","c":"r","k":"d","d":20.47,"u":7.67},{"s":"Kr1","c":"r","k":"d","d":20.72,"u":8.26},{"s":"Kr1","c":"r","k":"d","d":20.96,"u":8.35},{"s":"Kr1","c":"r","k":"d","d":21.36,"u":8.14},{"s":"Kr1","c":"r","k":"d","d":21.8,"u":7.98},
{"s":"Kr2","c":"r","k":"d","d":11.4,"u":7.07},{"s":"Kr2","c":"r","k":"d","d":11.88,"u":7.45},{"s":"Kr2","c":"r","k":"d","d":12.17,"u":7.55},{"s":"Kr2","c":"r","k":"d","d":12.65,"u":7.48},{"s":"Kr2","c":"r","k":"d","d":13.28,"u":7.23},{"s":"Kr2","c":"r","k":"d","d":13.9,"u":6.86}
],
"left": [
{"t":"A.-Sandec","c":"g","d":9.97,"u":46.95,"w":"n"},{"t":"N.-Sandec","c":"r","d":9.97,"u":44.75,"w":"n"},{"t":"Zglobice","c":"r","d":9.97,"u":43.57,"w":"n"},{"t":"Cjenzkowice","c":"b","d":9.97,"u":41.97,"w":"b"},{"t":"Zabno","c":"r","d":9.97,"u":38.58,"w":"n"},{"t":"Zmigrud","c":"g","d":9.97,"u":37.21,"w":"n"},{"t":"Zolkuw","c":"g","d":9.97,"u":35.24,"w":"n"},{"t":"Labuzje","c":"g","d":9.97,"u":32.28,"w":"n"},{"t":"Mjelec","c":"g","d":9.97,"u":30.38,"w":"n"},{"t":"Gawluszowice","c":"g","d":9.97,"u":27.74,"w":"n"},{"t":"Postoluw","c":"b","d":9.97,"u":25.0,"w":"b"},{"t":"Olchowce","c":"b","d":9.97,"u":23.83,"w":"b"},{"t":"Babice","c":"b","d":9.97,"u":20.75,"w":"b"},{"t":"Przemysl","c":"b","d":9.97,"u":18.56,"w":"b"},{"t":"Krowniki","c":"g","d":9.97,"u":17.1,"w":"n"},{"t":"Radymno","c":"b","d":9.97,"u":11.57,"w":"b"},{"t":"Jaroslau","c":"b","d":9.97,"u":9.76,"w":"b"},{"t":"Lezachuw","c":"b","d":9.97,"u":7.85,"w":"b"},{"t":"Krosno","c":"r","d":9.97,"u":6.64,"w":"n"},{"t":"Rzeszuw","c":"r","d":9.97,"u":4.42,"w":"n"},{"t":"Rudnik","c":"b","d":9.97,"u":2.05,"w":"b"},{"t":"Majdan","c":"b","d":9.97,"u":0.56,"w":"b"}
],
"right": [
{"t":"Poprad","c":"g","d":45.05,"u":47.28},{"t":"Dunajec","c":"r","d":45.05,"u":45.73},{"t":"Dunajec","c":"r","d":45.05,"u":45.1},{"t":"Biala","c":"b","d":45.05,"u":42.2},{"t":"Dunajec","c":"r","d":45.05,"u":40.64},{"t":"Wisloka","c":"g","d":45.05,"u":37.15},{"t":"Wisloka","c":"g","d":45.05,"u":35.75},{"t":"Wisloka","c":"g","d":45.05,"u":33.33},{"t":"Wisloka","c":"g","d":45.05,"u":30.19},{"t":"Wisloka","c":"g","d":45.05,"u":28.82},{"t":"San","c":"b","d":45.05,"u":26.22},{"t":"San","c":"b","d":45.05,"u":24.98},{"t":"San","c":"b","d":45.05,"u":21.35},{"t":"San","c":"b","d":45.05,"u":18.81},{"t":"Wiar","c":"g","d":45.05,"u":17.32},{"t":"San","c":"b","d":45.05,"u":13.25},{"t":"San","c":"b","d":45.05,"u":11.44},{"t":"San","c":"b","d":45.05,"u":9.53},{"t":"Wislok","c":"r","d":45.05,"u":6.23},{"t":"Wislok","c":"r","d":45.05,"u":4.81},{"t":"San","c":"b","d":45.05,"u":3.45},{"t":"San","c":"b","d":45.05,"u":2.29}
],
"vals": [
{"t":"2,50 m","c":"g","d":12.32,"u":48.62},{"t":"1 m","c":"g","d":19.24,"u":47.18},{"t":"2,20 m","c":"r","d":13.36,"u":46.24},{"t":"1 m","c":"r","d":11.75,"u":45.08},{"t":"1,35 m","c":"r","d":13.27,"u":45.40},{"t":"0 m","c":"r","d":11.04,"u":44.09},{"t":"1,20 m","c":"b","d":12.38,"u":43.27},{"t":"0 m","c":"b","d":10.33,"u":42.16},{"t":"2,16 m","c":"r","d":22.37,"u":46.23},{"t":"2,25 m","c":"r","d":39.35,"u":46.29},{"t":"1,25 m","c":"r","d":40.36,"u":45.34},{"t":"1 m","c":"r","d":32.89,"u":45.13},{"t":"0 m","c":"r","d":20.62,"u":44.07},{"t":"1,80 m","c":"b","d":21.25,"u":43.40},{"t":"2,34 m","c":"r","d":40.40,"u":41.27},{"t":"2,25 m","c":"r","d":13.44,"u":41.34},{"t":"0 m","c":"r","d":11.12,"u":38.93},{"t":"0 m","c":"r","d":20.07,"u":38.90},{"t":"2,35 m","c":"r","d":22.37,"u":41.63},{"t":"1 m","c":"r","d":29.06,"u":40.12},{"t":"3,60 m","c":"g","d":21.32,"u":38.77},{"t":"2,65 m","c":"g","d":39.58,"u":37.76},{"t":"3,20 m","c":"g","d":12.33,"u":36.29},{"t":"2,80 m","c":"g","d":21.83,"u":35.68},{"t":"3,00 m","c":"g","d":39.36,"u":36.10},{"t":"2,30 m","c":"g","d":13.38,"u":34.25},{"t":"2 m","c":"g","d":20.60,"u":34.06},{"t":"1 m","c":"g","d":29.61,"u":33.06},{"t":"2,90 m","c":"g","d":40.44,"u":34.83},{"t":"4,65 m","c":"g","d":12.70,"u":32.67},{"t":"4,63 m","c":"g","d":22.33,"u":32.71},{"t":"5,70 m","c":"g","d":21.70,"u":31.70},{"t":"2 m","c":"g","d":30.33,"u":30.06},{"t":"3 m","c":"g","d":29.70,"u":29.05},{"t":"3,85 m","c":"g","d":39.58,"u":30.76},{"t":"3,46 m","c":"g","d":39.68,"u":29.74},{"t":"5,50 m","c":"g","d":12.76,"u":31.51},{"t":"2 m","c":"g","d":12.02,"u":28.08},{"t":"2,50 m","c":"b","d":11.69,"u":27.56},{"t":"1 m","c":"b","d":11.30,"u":26.11},{"t":"2,90 m","c":"b","d":22.92,"u":27.69},{"t":"2,90 m","c":"b","d":26.33,"u":27.69},{"t":"1 m","c":"b","d":36.24,"u":26.09},{"t":"3,75 m","c":"b","d":14.34,"u":25.77},{"t":"2 m","c":"b","d":10.26,"u":24.15},{"t":"3 m","c":"b","d":28.36,"u":25.04},{"t":"6,10 m","c":"b","d":12.72,"u":25.15},{"t":"4 m","c":"b","d":14.20,"u":23.09},{"t":"2 m","c":"b","d":11.81,"u":21.11},{"t":"4,10 m","c":"b","d":21.75,"u":23.18},{"t":"2 m","c":"b","d":32.28,"u":21.10},{"t":"3,38 m","c":"b","d":40.38,"u":22.40},{"t":"3,20 m","c":"b","d":14.34,"u":21.27},{"t":"1 m","c":"b","d":13.16,"u":19.10},{"t":"4,20 m","c":"b","d":21.78,"u":22.23},{"t":"2 m","c":"b","d":25.50,"u":20.08},{"t":"1,35 m","c":"b","d":35.28,"u":19.35},{"t":"3,40 m","c":"g","d":14.34,"u":18.50},{"t":"6,80 m","c":"g","d":22.43,"u":21.83},{"t":"5 m","c":"g","d":22.52,"u":20.07},{"t":"3 m","c":"g","d":24.26,"u":18.09},{"t":"2,80 m","c":"g","d":35.02,"u":17.95},{"t":"5,45","c":"b","d":23.23,"u":18.56},{"t":"m","c":"b","d":23.29,"u":18.14},{"t":"3 m","c":"b","d":21.78,"u":16.13},{"t":"2 m","c":"b","d":25.62,"u":15.09},{"t":"1,80 m","c":"b","d":13.60,"u":14.84},{"t":"-1 m","c":"b","d":12.90,"u":12.14},{"t":"0 m","c":"b","d":21.02,"u":13.12},{"t":"3 m","c":"b","d":22.20,"u":13.12},{"t":"5,00 m","c":"b","d":24.39,"u":15.10},{"t":"0 m","c":"b","d":31.60,"u":13.12},{"t":"1,35 m","c":"b","d":35.28,"u":14.43},{"t":"2,20 m","c":"b","d":15.58,"u":12.33},{"t":"0 m","c":"b","d":13.16,"u":10.20},{"t":"2,46 m","c":"b","d":34.64,"u":12.46},{"t":"4,82 m","c":"b","d":25.38,"u":10.90},{"t":"3 m","c":"b","d":22.60,"u":9.14},{"t":"4,04 m","c":"b","d":15.58,"u":10.17},{"t":"2 m","c":"b","d":11.94,"u":8.17},{"t":"4,40 m","c":"b","d":36.34,"u":10.49},{"t":"3,42 m","c":"r","d":21.32,"u":8.51},{"t":"2,60 m","c":"r","d":11.85,"u":7.69},{"t":"2,24 m","c":"r","d":33.62,"u":7.26},{"t":"2,24 m","c":"r","d":38.30,"u":7.31},{"t":"2,50 m","c":"r","d":12.71,"u":6.26},{"t":"3,00 m","c":"r","d":22.37,"u":7.05},{"t":"1 m","c":"r","d":29.77,"u":5.05},{"t":"1,80 m","c":"r","d":35.34,"u":5.82},{"t":"1,65 m","c":"r","d":38.70,"u":5.69},{"t":"3 m","c":"b","d":22.78,"u":5.08},{"t":"2,50 m","c":"b","d":23.36,"u":3.55},{"t":"2,10 m","c":"b","d":35.68,"u":4.09},{"t":"2,05 m","c":"b","d":36.36,"u":3.11},{"t":"2,10 m","c":"b","d":16.31,"u":4.13},{"t":"1,60 m","c":"b","d":16.57,"u":3.75}
],
"misc": [
{"t":"März","d":9.85,"u":-0.27,"a":"left","f":34},{"t":"April","d":31.87,"u":-0.27,"a":"left","f":34},{"t":"April","d":45.12,"u":-0.27,"a":"right","f":34},{"t":"Ber","d":46.62,"u":-0.1,"a":"left","f":22},{"t":"Verlag von Die","d":45.32,"u":-0.46,"a":"left","f":20}
],
"title": [{"t":"(Dunajec, Wisloka und San)","d":27.2,"u":49.2}]
},
"encoding": {
"x": {"field":"d","type":"quantitative","scale":{"domain":[10,45],"nice":false,"zero":false},
 "axis":{"values":[10,11,12,13,14,15,16,17,18,19,20,21,22,23,24,25,26,27,28,29,30,31,32,33,34,35,36,37,38,39,40,41,42,43,44,45],"grid":true,"gridColor":"#4d453e","gridOpacity":0.65,"gridWidth":1.3,"labelExpr":"datum.value <= 31 ? datum.value + '.' : (datum.value - 31) + '.'","labelFont":"Liberation Serif","labelFontSize":18,"labelColor":"#3a322c","labelPadding":3,"labelAngle":0,"labelFlush":false,"labelOverlap":false,"labelBound":false}},
"y": {"field":"u","type":"quantitative","scale":{"domain":[0,49],"nice":false,"zero":false},
 "axis":{"values":[0,1,2,3,4,5,6,7,8,9,10,11,12,13,14,15,16,17,18,19,20,21,22,23,24,25,26,27,28,29,30,31,32,33,34,35,36,37,38,39,40,41,42,43,44,45,46,47,48,49],"grid":true,"gridColor":"#4d453e","gridOpacity":0.72,"gridWidth":1.6,"labels":false}}
},
"layer": [
{"data":{"name":"comp"},"transform":[{"filter":"datum.k == 's'"}],"mark":{"type":"line","interpolate":"monotone","strokeWidth":1.8},
 "encoding":{"color":{"field":"c","type":"nominal","scale":{"domain":["g","r","b"],"range":["#5e9a4f","#df4a4c","#2f52a5"]},"legend":null},"detail":{"field":"s"}}},
{"data":{"name":"comp"},"transform":[{"filter":"datum.k == 'd'"}],"mark":{"type":"line","interpolate":"monotone","strokeWidth":1.8,"strokeDash":[9,5]},
 "encoding":{"color":{"field":"c","type":"nominal","scale":{"domain":["g","r","b"],"range":["#5e9a4f","#df4a4c","#2f52a5"]},"legend":null},"detail":{"field":"s"}}},
{"data":{"name":"curves"},"mark":{"type":"line","interpolate":"monotone","strokeWidth":4.2,"strokeCap":"round","strokeJoin":"round"},
 "encoding":{"color":{"field":"c","type":"nominal","scale":{"domain":["g","r","b"],"range":["#5e9a4f","#df4a4c","#2f52a5"]},"legend":null},"detail":{"field":"s"}}},
{"data":{"name":"left"},"transform":[{"filter":"datum.w == 'n'"}],"mark":{"type":"text","align":"right","baseline":"alphabetic","font":"DejaVu Serif","fontSize":26,"dx":-1},
 "encoding":{"text":{"field":"t"},"color":{"field":"c","type":"nominal","scale":{"domain":["g","r","b"],"range":["#5e9a4f","#df4a4c","#2f52a5"]},"legend":null}}},
{"data":{"name":"left"},"transform":[{"filter":"datum.w == 'b'"}],"mark":{"type":"text","align":"right","baseline":"alphabetic","font":"DejaVu Serif","fontSize":24,"fontWeight":"bold","dx":-1},
 "encoding":{"text":{"field":"t"},"color":{"field":"c","type":"nominal","scale":{"domain":["g","r","b"],"range":["#5e9a4f","#df4a4c","#2f52a5"]},"legend":null}}},
{"data":{"name":"right"},"mark":{"type":"text","align":"left","baseline":"alphabetic","font":"DejaVu Serif","fontSize":27,"dx":2},
 "encoding":{"text":{"field":"t"},"color":{"field":"c","type":"nominal","scale":{"domain":["g","r","b"],"range":["#5e9a4f","#df4a4c","#2f52a5"]},"legend":null}}},
{"data":{"name":"vals"},"mark":{"type":"text","align":"center","baseline":"middle","font":"DejaVu Sans Condensed, DejaVu Sans","fontSize":15},
 "encoding":{"text":{"field":"t"},"color":{"field":"c","type":"nominal","scale":{"domain":["g","r","b"],"range":["#5e9a4f","#df4a4c","#2f52a5"]},"legend":null}}},
{"data":{"name":"misc"},"transform":[{"filter":"datum.a == 'left'"}],"mark":{"type":"text","align":"left","baseline":"top","font":"Liberation Serif","color":"#3a322c"},
 "encoding":{"text":{"field":"t"},"size":{"field":"f","type":"quantitative","scale":null}}},
{"data":{"name":"misc"},"transform":[{"filter":"datum.a == 'right'"}],"mark":{"type":"text","align":"right","baseline":"top","font":"Liberation Serif","color":"#3a322c"},
 "encoding":{"text":{"field":"t"},"size":{"field":"f","type":"quantitative","scale":null}}},
{"data":{"name":"title"},"mark":{"type":"text","align":"center","baseline":"bottom","font":"Liberation Serif","fontSize":30,"color":"#5a4a3c"},
 "encoding":{"text":{"field":"t"}}}
]
}
